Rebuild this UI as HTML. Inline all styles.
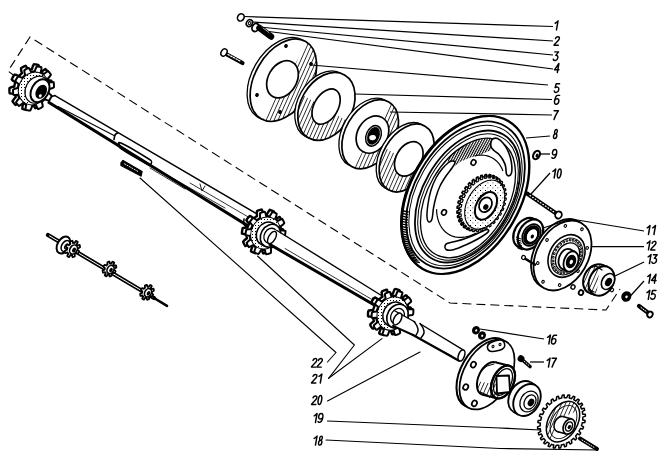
<!DOCTYPE html>
<html><head><meta charset="utf-8"><style>html,body{margin:0;padding:0;background:#fff;font-family:"Liberation Sans",sans-serif;}svg{display:block;will-change:transform;}</style></head>
<body><svg width="666" height="464" viewBox="0 0 666 464">
<defs>
<pattern id="h" patternUnits="userSpaceOnUse" width="3.6" height="3.6" patternTransform="rotate(24)"><rect width="0.75" height="3.6" fill="#000"/></pattern>
<pattern id="hd" patternUnits="userSpaceOnUse" width="2.2" height="2.2" patternTransform="rotate(28)"><rect width="1.1" height="2.2" fill="#000"/></pattern>
<pattern id="dots2" patternUnits="userSpaceOnUse" width="5" height="5"><rect width="1" height="1" fill="#000"/><rect x="2.5" y="2.5" width="0.8" height="0.8" fill="#000"/></pattern>
<pattern id="dots" patternUnits="userSpaceOnUse" width="3" height="3"><rect width="1" height="1" fill="#000"/></pattern>
</defs>
<rect width="666" height="464" fill="#fff"/>
<path d="M16,77 L8,71 L30,37 L450,303 L606,310 L620,289" fill="none" stroke="#000" stroke-width="1.1" stroke-dasharray="9,5"/>
<path d="M48,235 L154,298" fill="none" stroke="#000" stroke-width="4.2" stroke-linejoin="round" stroke-linecap="round" />
<path d="M154,298 L167,305.8" fill="none" stroke="#000" stroke-width="2.6" stroke-linejoin="round" stroke-linecap="round" />
<path d="M49.5,235.9 L152,296.8" fill="none" stroke="#fff" stroke-width="1.0" stroke-linejoin="round" stroke-linecap="round" />
<ellipse cx="63.5" cy="245" rx="6" ry="9.2" transform="rotate(30 63.5 245)" fill="#fff" stroke="#000" stroke-width="2.0" />
<ellipse cx="65.5" cy="246" rx="3.8" ry="6" transform="rotate(30 65.5 246)" fill="none" stroke="#000" stroke-width="1.5" />
<ellipse cx="66.5" cy="246.5" rx="1.6" ry="2.5" transform="rotate(30 66.5 246.5)" fill="none" stroke="#000" stroke-width="1.2" />
<path d="M78.6,252.52 L78.37,252.89 L78.14,253.25 L77.89,253.6 L77.03,253.37 L75.99,252.79 L75.78,253.02 L75.57,253.23 L75.34,253.44 L75.11,253.64 L74.88,253.82 L74.64,253.99 L74.82,255.34 L74.78,256.37 L74.42,256.56 L74.06,256.73 L73.7,256.88 L73.33,257.01 L72.97,257.12 L72.6,257.22 L72.26,256.34 L72.04,255.01 L71.78,255.03 L71.51,255.04 L71.25,255.04 L71,255.02 L70.74,254.99 L70.49,254.94 L69.73,256.22 L69.04,257.06 L68.72,256.93 L68.4,256.78 L68.1,256.62 L67.81,256.44 L67.52,256.24 L67.25,256.02 L67.63,255.01 L68.36,253.71 L68.19,253.52 L68.04,253.31 L67.89,253.1 L67.76,252.88 L67.64,252.64 L67.53,252.4 L66.27,252.88 L65.33,253.02 L65.23,252.66 L65.15,252.28 L65.08,251.9 L65.03,251.51 L65,251.11 L64.98,250.71 L65.85,250.16 L67.11,249.65 L67.14,249.35 L67.18,249.05 L67.23,248.76 L67.3,248.46 L67.38,248.17 L67.47,247.87 L66.45,247.26 L65.82,246.64 L66,246.24 L66.19,245.86 L66.4,245.48 L66.63,245.11 L66.86,244.75 L67.11,244.4 L67.97,244.63 L69.01,245.21 L69.22,244.98 L69.43,244.77 L69.66,244.56 L69.89,244.36 L70.12,244.18 L70.36,244.01 L70.18,242.66 L70.22,241.63 L70.58,241.44 L70.94,241.27 L71.3,241.12 L71.67,240.99 L72.03,240.88 L72.4,240.78 L72.74,241.66 L72.96,242.99 L73.22,242.97 L73.49,242.96 L73.75,242.96 L74,242.98 L74.26,243.01 L74.51,243.06 L75.27,241.78 L75.96,240.94 L76.28,241.07 L76.6,241.22 L76.9,241.38 L77.19,241.56 L77.48,241.76 L77.75,241.98 L77.37,242.99 L76.64,244.29 L76.81,244.48 L76.96,244.69 L77.11,244.9 L77.24,245.12 L77.36,245.36 L77.47,245.6 L78.73,245.12 L79.67,244.98 L79.77,245.34 L79.85,245.72 L79.92,246.1 L79.97,246.49 L80,246.89 L80.02,247.29 L79.15,247.84 L77.89,248.35 L77.86,248.65 L77.82,248.95 L77.77,249.24 L77.7,249.54 L77.62,249.83 L77.53,250.13 L78.55,250.74 L79.18,251.36 L79,251.76 L78.81,252.14 Z" fill="#fff" stroke="#000" stroke-width="1.8" stroke-linejoin="round" stroke-linecap="round" />
<ellipse cx="73.5" cy="249.5" rx="3.52" ry="4.84" transform="rotate(30 73.5 249.5)" fill="#fff" stroke="#000" stroke-width="1.6" />
<ellipse cx="74" cy="250" rx="1.76" ry="2.64" transform="rotate(30 74 250)" fill="#000" stroke="#000" stroke-width="0" />
<path d="M115.04,272.2 L114.84,272.54 L114.62,272.86 L114.4,273.18 L113.62,272.97 L112.67,272.45 L112.48,272.65 L112.29,272.85 L112.08,273.04 L111.88,273.22 L111.66,273.38 L111.44,273.54 L111.61,274.76 L111.57,275.7 L111.25,275.87 L110.92,276.02 L110.59,276.16 L110.26,276.28 L109.92,276.39 L109.59,276.47 L109.28,275.67 L109.08,274.46 L108.84,274.49 L108.6,274.49 L108.37,274.49 L108.13,274.47 L107.9,274.44 L107.68,274.4 L106.99,275.56 L106.36,276.32 L106.06,276.21 L105.78,276.08 L105.5,275.93 L105.23,275.76 L104.98,275.58 L104.73,275.38 L105.07,274.46 L105.74,273.28 L105.59,273.1 L105.44,272.92 L105.31,272.73 L105.19,272.52 L105.08,272.31 L104.98,272.09 L103.83,272.52 L102.99,272.66 L102.89,272.33 L102.81,271.98 L102.75,271.64 L102.71,271.28 L102.68,270.92 L102.67,270.56 L103.46,270.05 L104.6,269.59 L104.62,269.32 L104.66,269.05 L104.71,268.78 L104.77,268.51 L104.85,268.24 L104.93,267.98 L104,267.42 L103.43,266.85 L103.59,266.49 L103.77,266.14 L103.96,265.8 L104.16,265.46 L104.38,265.14 L104.6,264.82 L105.38,265.03 L106.33,265.55 L106.52,265.35 L106.71,265.15 L106.92,264.96 L107.12,264.78 L107.34,264.62 L107.56,264.46 L107.39,263.24 L107.43,262.3 L107.75,262.13 L108.08,261.98 L108.41,261.84 L108.74,261.72 L109.08,261.61 L109.41,261.53 L109.72,262.33 L109.92,263.54 L110.16,263.51 L110.4,263.51 L110.63,263.51 L110.87,263.53 L111.1,263.56 L111.32,263.6 L112.01,262.44 L112.64,261.68 L112.94,261.79 L113.22,261.92 L113.5,262.07 L113.77,262.24 L114.02,262.42 L114.27,262.62 L113.93,263.54 L113.26,264.72 L113.41,264.9 L113.56,265.08 L113.69,265.27 L113.81,265.48 L113.92,265.69 L114.02,265.91 L115.17,265.48 L116.01,265.34 L116.11,265.67 L116.19,266.02 L116.25,266.36 L116.29,266.72 L116.32,267.08 L116.33,267.44 L115.54,267.95 L114.4,268.41 L114.38,268.68 L114.34,268.95 L114.29,269.22 L114.23,269.49 L114.15,269.76 L114.07,270.02 L115,270.58 L115.57,271.15 L115.41,271.51 L115.23,271.86 Z" fill="#fff" stroke="#000" stroke-width="1.8" stroke-linejoin="round" stroke-linecap="round" />
<ellipse cx="110.5" cy="269.5" rx="3.2" ry="4.4" transform="rotate(30 110.5 269.5)" fill="#fff" stroke="#000" stroke-width="1.6" />
<ellipse cx="111" cy="270" rx="1.6" ry="2.4" transform="rotate(30 111 270)" fill="#000" stroke="#000" stroke-width="0" />
<path d="M152.54,295.5 L152.34,295.84 L152.12,296.16 L151.9,296.48 L151.12,296.27 L150.17,295.75 L149.98,295.95 L149.79,296.15 L149.58,296.34 L149.38,296.52 L149.16,296.68 L148.94,296.84 L149.11,298.06 L149.07,299 L148.75,299.17 L148.42,299.32 L148.09,299.46 L147.76,299.58 L147.42,299.69 L147.09,299.77 L146.78,298.97 L146.58,297.76 L146.34,297.79 L146.1,297.79 L145.87,297.79 L145.63,297.77 L145.4,297.74 L145.18,297.7 L144.49,298.86 L143.86,299.62 L143.56,299.51 L143.28,299.38 L143,299.23 L142.73,299.06 L142.48,298.88 L142.23,298.68 L142.57,297.76 L143.24,296.58 L143.09,296.4 L142.94,296.22 L142.81,296.03 L142.69,295.82 L142.58,295.61 L142.48,295.39 L141.33,295.82 L140.49,295.96 L140.39,295.63 L140.31,295.28 L140.25,294.94 L140.21,294.58 L140.18,294.22 L140.17,293.86 L140.96,293.35 L142.1,292.89 L142.12,292.62 L142.16,292.35 L142.21,292.08 L142.27,291.81 L142.35,291.54 L142.43,291.28 L141.5,290.72 L140.93,290.15 L141.09,289.79 L141.27,289.44 L141.46,289.1 L141.66,288.76 L141.88,288.44 L142.1,288.12 L142.88,288.33 L143.83,288.85 L144.02,288.65 L144.21,288.45 L144.42,288.26 L144.62,288.08 L144.84,287.92 L145.06,287.76 L144.89,286.54 L144.93,285.6 L145.25,285.43 L145.58,285.28 L145.91,285.14 L146.24,285.02 L146.58,284.91 L146.91,284.83 L147.22,285.63 L147.42,286.84 L147.66,286.81 L147.9,286.81 L148.13,286.81 L148.37,286.83 L148.6,286.86 L148.82,286.9 L149.51,285.74 L150.14,284.98 L150.44,285.09 L150.72,285.22 L151,285.37 L151.27,285.54 L151.52,285.72 L151.77,285.92 L151.43,286.84 L150.76,288.02 L150.91,288.2 L151.06,288.38 L151.19,288.57 L151.31,288.78 L151.42,288.99 L151.52,289.21 L152.67,288.78 L153.51,288.64 L153.61,288.97 L153.69,289.32 L153.75,289.66 L153.79,290.02 L153.82,290.38 L153.83,290.74 L153.04,291.25 L151.9,291.71 L151.88,291.98 L151.84,292.25 L151.79,292.52 L151.73,292.79 L151.65,293.06 L151.57,293.32 L152.5,293.88 L153.07,294.45 L152.91,294.81 L152.73,295.16 Z" fill="#fff" stroke="#000" stroke-width="1.8" stroke-linejoin="round" stroke-linecap="round" />
<ellipse cx="148" cy="292.8" rx="3.2" ry="4.4" transform="rotate(30 148 292.8)" fill="#fff" stroke="#000" stroke-width="1.6" />
<ellipse cx="148.5" cy="293.3" rx="1.6" ry="2.4" transform="rotate(30 148.5 293.3)" fill="#000" stroke="#000" stroke-width="0" />
<path d="M55,95.6 L258,214.5 L253,229 L49,102.5 Z" fill="#fff" stroke="none"/>
<path d="M55,95.6 L258,214.5" fill="none" stroke="#000" stroke-width="1.4" stroke-linejoin="round" stroke-linecap="round" />
<path d="M117.5,133 C117.08,133.33 115.58,133.92 115,135 C114.42,136.08 114.17,138.75 114,139.5" fill="none" stroke="#000" stroke-width="1.6" stroke-linejoin="round" stroke-linecap="round" />
<path d="M49,102.5 L253,229" fill="none" stroke="#000" stroke-width="3.2" stroke-linejoin="round" stroke-linecap="round" />
<path d="M58,106.5 L114,135.5" fill="none" stroke="#000" stroke-width="1.1" stroke-linejoin="round" stroke-linecap="round" />
<path d="M49,102.5 L50,97 L55,95.6" fill="none" stroke="#000" stroke-width="1.6" stroke-linejoin="round" stroke-linecap="round" />
<path d="M121,143 C125.67,145.08 142.92,155.33 148,158.5 C153.08,161.67 151.17,161 151.5,162 C151.83,163 150.92,164.25 150,164.5 C149.08,164.75 150.67,166 146,163.5 C141.33,161 126.33,152.42 122,149.5 C117.67,146.58 120.17,147.08 120,146 C119.83,144.92 116.33,140.92 121,143 Z" fill="none" stroke="#000" stroke-width="1.5" stroke-linejoin="round" stroke-linecap="round" />
<path d="M150,168 L185,189" fill="none" stroke="#000" stroke-width="0.8" stroke-linejoin="round" stroke-linecap="round" />
<path d="M160,171 L225,208" fill="none" stroke="#000" stroke-width="0.8" stroke-linejoin="round" stroke-linecap="round" />
<path d="M190,183 L250,218" fill="none" stroke="#000" stroke-width="0.8" stroke-linejoin="round" stroke-linecap="round" />
<path d="M200,184 L202,191 L205,186" fill="none" stroke="#000" stroke-width="0.9" stroke-linejoin="round" stroke-linecap="round" />
<path d="M244,219 L243.5,224 L247,227.5" fill="none" stroke="#000" stroke-width="1.6" stroke-linejoin="round" stroke-linecap="round" />
<path d="M48,97.11 L47.53,97.9 L47.03,98.67 L46.5,99.43 L44.55,98.97 L42.1,97.83 L41.64,98.37 L41.15,98.89 L40.65,99.4 L40.14,99.89 L39.61,100.36 L39.06,100.8 L39.83,103.59 L40.03,105.76 L39.28,106.25 L38.52,106.71 L37.75,107.14 L36.97,107.54 L36.18,107.9 L35.38,108.24 L34.2,106.59 L33.04,104.01 L32.4,104.19 L31.75,104.35 L31.11,104.48 L30.46,104.58 L29.82,104.65 L29.17,104.7 L28.21,107.66 L27.16,109.71 L26.34,109.67 L25.53,109.59 L24.73,109.48 L23.94,109.33 L23.16,109.15 L22.39,108.93 L22.44,106.72 L23,103.69 L22.43,103.44 L21.88,103.17 L21.34,102.87 L20.81,102.55 L20.29,102.21 L19.79,101.84 L17.46,103.84 L15.56,104.99 L14.99,104.43 L14.44,103.84 L13.92,103.23 L13.42,102.6 L12.95,101.94 L12.5,101.25 L13.75,99.32 L15.83,97 L15.55,96.42 L15.3,95.82 L15.06,95.21 L14.85,94.59 L14.66,93.95 L14.5,93.31 L11.69,93.59 L9.67,93.39 L9.56,92.53 L9.48,91.66 L9.43,90.79 L9.42,89.9 L9.44,89.02 L9.49,88.13 L11.47,87.21 L14.27,86.49 L14.38,85.79 L14.52,85.1 L14.68,84.41 L14.87,83.72 L15.09,83.04 L15.32,82.37 L13.11,80.82 L11.74,79.36 L12.13,78.52 L12.55,77.7 L13,76.89 L13.47,76.1 L13.97,75.33 L14.5,74.57 L16.45,75.03 L18.9,76.17 L19.36,75.63 L19.85,75.11 L20.35,74.6 L20.86,74.11 L21.39,73.64 L21.94,73.2 L21.17,70.41 L20.97,68.24 L21.72,67.75 L22.48,67.29 L23.25,66.86 L24.03,66.46 L24.82,66.1 L25.62,65.76 L26.8,67.41 L27.96,69.99 L28.6,69.81 L29.25,69.65 L29.89,69.52 L30.54,69.42 L31.18,69.35 L31.83,69.3 L32.79,66.34 L33.84,64.29 L34.66,64.33 L35.47,64.41 L36.27,64.52 L37.06,64.67 L37.84,64.85 L38.61,65.07 L38.56,67.28 L38,70.31 L38.57,70.56 L39.12,70.83 L39.66,71.13 L40.19,71.45 L40.71,71.79 L41.21,72.16 L43.54,70.16 L45.44,69.01 L46.01,69.57 L46.56,70.16 L47.08,70.77 L47.58,71.4 L48.05,72.06 L48.5,72.75 L47.25,74.68 L45.17,77 L45.45,77.58 L45.7,78.18 L45.94,78.79 L46.15,79.41 L46.34,80.05 L46.5,80.69 L49.31,80.41 L51.33,80.61 L51.44,81.47 L51.52,82.34 L51.57,83.21 L51.58,84.1 L51.56,84.98 L51.51,85.87 L49.53,86.79 L46.73,87.51 L46.62,88.21 L46.48,88.9 L46.32,89.59 L46.13,90.28 L45.91,90.96 L45.68,91.63 L47.89,93.18 L49.26,94.64 L48.87,95.48 L48.45,96.3 Z" fill="#fff" stroke="#000" stroke-width="2.4" stroke-linejoin="round" stroke-linecap="round" />
<path d="M50.48,98.3 L50.02,99.07 L49.53,99.82 L49.02,100.55 L47.15,100.13 L44.8,99.05 L44.35,99.58 L43.88,100.09 L43.39,100.58 L42.89,101.06 L42.37,101.51 L41.84,101.95 L42.57,104.62 L42.74,106.7 L42.02,107.17 L41.28,107.62 L40.54,108.03 L39.78,108.42 L39.01,108.77 L38.23,109.1 L37.09,107.53 L35.97,105.07 L35.35,105.25 L34.72,105.4 L34.09,105.53 L33.47,105.63 L32.84,105.7 L32.21,105.75 L31.27,108.58 L30.26,110.53 L29.47,110.49 L28.68,110.41 L27.91,110.3 L27.14,110.16 L26.38,109.98 L25.63,109.77 L25.66,107.66 L26.2,104.76 L25.64,104.52 L25.1,104.26 L24.57,103.97 L24.05,103.65 L23.55,103.32 L23.07,102.96 L20.83,104.86 L19.01,105.95 L18.45,105.41 L17.92,104.84 L17.41,104.25 L16.93,103.63 L16.47,102.99 L16.04,102.32 L17.23,100.47 L19.21,98.24 L18.94,97.68 L18.68,97.09 L18.46,96.5 L18.25,95.89 L18.07,95.27 L17.91,94.64 L15.22,94.9 L13.3,94.7 L13.19,93.87 L13.11,93.02 L13.07,92.17 L13.05,91.32 L13.07,90.46 L13.12,89.59 L15.01,88.71 L17.68,88 L17.79,87.32 L17.93,86.65 L18.09,85.98 L18.27,85.31 L18.48,84.64 L18.71,83.99 L16.6,82.49 L15.3,81.09 L15.68,80.28 L16.09,79.48 L16.52,78.7 L16.98,77.93 L17.47,77.18 L17.98,76.45 L19.85,76.87 L22.2,77.95 L22.65,77.42 L23.12,76.91 L23.61,76.42 L24.11,75.94 L24.63,75.49 L25.16,75.05 L24.43,72.38 L24.26,70.3 L24.98,69.83 L25.72,69.38 L26.46,68.97 L27.22,68.58 L27.99,68.23 L28.77,67.9 L29.91,69.47 L31.03,71.93 L31.65,71.75 L32.28,71.6 L32.91,71.47 L33.53,71.37 L34.16,71.3 L34.79,71.25 L35.73,68.42 L36.74,66.47 L37.53,66.51 L38.32,66.59 L39.09,66.7 L39.86,66.84 L40.62,67.02 L41.37,67.23 L41.34,69.34 L40.8,72.24 L41.36,72.48 L41.9,72.74 L42.43,73.03 L42.95,73.35 L43.45,73.68 L43.93,74.04 L46.17,72.14 L47.99,71.05 L48.55,71.59 L49.08,72.16 L49.59,72.75 L50.07,73.37 L50.53,74.01 L50.96,74.68 L49.77,76.53 L47.79,78.76 L48.06,79.32 L48.32,79.91 L48.54,80.5 L48.75,81.11 L48.93,81.73 L49.09,82.36 L51.78,82.1 L53.7,82.3 L53.81,83.13 L53.89,83.98 L53.93,84.83 L53.95,85.68 L53.93,86.54 L53.88,87.41 L51.99,88.29 L49.32,89 L49.21,89.68 L49.07,90.35 L48.91,91.02 L48.73,91.69 L48.52,92.36 L48.29,93.01 L50.4,94.51 L51.7,95.91 L51.32,96.72 L50.91,97.52 Z" fill="#fff" stroke="#000" stroke-width="2.0" stroke-linejoin="round" stroke-linecap="round" />
<path d="M46.1,95.78 L45.32,97.03 L44.44,98.21 L43.48,99.32 L42.45,100.35 L41.35,101.29 L40.18,102.13 L38.97,102.86 L37.72,103.49 L36.43,104.01 L35.12,104.4 L33.8,104.68 L32.47,104.83 L31.16,104.86 L29.86,104.76 L28.59,104.54 L27.36,104.19 L26.17,103.73 L25.04,103.15 L23.97,102.46 L22.98,101.67 L22.07,100.77 L21.24,99.78 L20.51,98.71 L19.87,97.55 L19.34,96.33 L18.92,95.05 L18.61,93.72 L18.41,92.35 L18.32,90.94 L18.36,89.53 L18.5,88.1 L18.76,86.67 L19.14,85.26 L19.62,83.88 L20.21,82.53 L20.9,81.22 L21.68,79.97 L22.56,78.79 L23.52,77.68 L24.55,76.65 L25.65,75.71 L26.82,74.87 L28.03,74.14 L29.28,73.51 L30.57,72.99 L31.88,72.6 L33.2,72.32 L34.53,72.17 L35.84,72.14 L37.14,72.24 L38.41,72.46 L39.64,72.81 L40.83,73.27 L41.96,73.85 L43.03,74.54 L44.02,75.33 L44.93,76.23 L45.76,77.22 L46.49,78.29 L47.13,79.45 L47.66,80.67 L48.08,81.95 L48.39,83.28 L48.59,84.65 L48.68,86.06 L48.64,87.47 L48.5,88.9 L48.24,90.33 L47.86,91.74 L47.38,93.12 L46.79,94.47 L46.1,95.78 Z M46.68,95.88 L46.02,96.92 L45.3,97.91 L44.5,98.84 L43.65,99.7 L42.74,100.49 L41.79,101.19 L40.79,101.82 L39.76,102.35 L38.71,102.79 L37.64,103.13 L36.56,103.37 L35.48,103.51 L34.41,103.55 L33.36,103.48 L32.32,103.32 L31.32,103.05 L30.36,102.68 L29.45,102.21 L28.59,101.65 L27.79,101.01 L27.06,100.27 L26.39,99.47 L25.81,98.58 L25.31,97.64 L24.89,96.63 L24.56,95.58 L24.32,94.48 L24.17,93.35 L24.12,92.19 L24.16,91.02 L24.3,89.84 L24.53,88.66 L24.85,87.49 L25.25,86.33 L25.75,85.21 L26.32,84.12 L26.98,83.08 L27.7,82.09 L28.5,81.16 L29.35,80.3 L30.26,79.51 L31.21,78.81 L32.21,78.18 L33.24,77.65 L34.29,77.21 L35.36,76.87 L36.44,76.63 L37.52,76.49 L38.59,76.45 L39.64,76.52 L40.68,76.68 L41.68,76.95 L42.64,77.32 L43.55,77.79 L44.41,78.35 L45.21,78.99 L45.94,79.73 L46.61,80.53 L47.19,81.42 L47.69,82.36 L48.11,83.37 L48.44,84.42 L48.68,85.52 L48.83,86.65 L48.88,87.81 L48.84,88.98 L48.7,90.16 L48.47,91.34 L48.15,92.51 L47.75,93.67 L47.25,94.79 L46.68,95.88 Z" fill="url(#dots)" fill-rule="evenodd"/>
<ellipse cx="33.5" cy="88.5" rx="14.55" ry="16.92" transform="rotate(30 33.5 88.5)" fill="none" stroke="#000" stroke-width="1.0" />
<ellipse cx="37" cy="89.7" rx="11.28" ry="14.1" transform="rotate(30 37 89.7)" fill="#fff" stroke="#000" stroke-width="1.2" />
<ellipse cx="40" cy="90.7" rx="8.46" ry="12.22" transform="rotate(30 40 90.7)" fill="#fff" stroke="#000" stroke-width="1.9" />
<ellipse cx="41.2" cy="91.8" rx="5.17" ry="7.52" transform="rotate(30 41.2 91.8)" fill="#000" stroke="#000" stroke-width="0" />
<ellipse cx="40.3" cy="95.8" rx="1.41" ry="1.65" transform="rotate(30 40.3 95.8)" fill="#fff" stroke="#000" stroke-width="0" />
<path d="M275.86,239.21 L277.39,241.03 L278.67,242.92 L278.16,243.66 L277.62,244.38 L277.06,245.09 L276.47,245.77 L275.87,246.43 L275.24,247.06 L273.67,246.44 L271.41,244.57 L270.88,245.01 L270.33,245.43 L269.77,245.82 L269.21,246.2 L268.63,246.55 L268.04,246.87 L268.16,249.45 L268.06,251.96 L267.27,252.28 L266.48,252.58 L265.68,252.84 L264.88,253.07 L264.07,253.27 L263.27,253.43 L262.46,251.88 L261.83,248.78 L261.2,248.82 L260.57,248.85 L259.95,248.84 L259.33,248.81 L258.71,248.75 L258.1,248.66 L256.77,251.02 L255.32,253.18 L254.56,252.97 L253.82,252.72 L253.09,252.44 L252.38,252.13 L251.68,251.79 L251,251.42 L251.26,249.53 L252.51,246.38 L252.02,246.02 L251.55,245.64 L251.1,245.23 L250.66,244.81 L250.24,244.36 L249.84,243.89 L247.56,245.14 L245.32,246.12 L244.88,245.45 L244.48,244.76 L244.1,244.05 L243.74,243.32 L243.42,242.57 L243.13,241.8 L244.36,240.29 L247,238.3 L246.84,237.67 L246.71,237.03 L246.6,236.38 L246.51,235.72 L246.45,235.06 L246.42,234.39 L244.07,234.04 L241.89,233.47 L241.94,232.6 L242.02,231.73 L242.13,230.86 L242.27,229.99 L242.45,229.12 L242.65,228.25 L244.39,227.7 L247.41,227.63 L247.65,226.97 L247.9,226.31 L248.18,225.67 L248.48,225.03 L248.8,224.4 L249.14,223.79 L247.61,221.97 L246.33,220.08 L246.84,219.34 L247.38,218.62 L247.94,217.91 L248.53,217.23 L249.13,216.57 L249.76,215.94 L251.33,216.56 L253.59,218.43 L254.12,217.99 L254.67,217.57 L255.23,217.18 L255.79,216.8 L256.37,216.45 L256.96,216.13 L256.84,213.55 L256.94,211.04 L257.73,210.72 L258.52,210.42 L259.32,210.16 L260.12,209.93 L260.93,209.73 L261.73,209.57 L262.54,211.12 L263.17,214.22 L263.8,214.18 L264.43,214.15 L265.05,214.16 L265.67,214.19 L266.29,214.25 L266.9,214.34 L268.23,211.98 L269.68,209.82 L270.44,210.03 L271.18,210.28 L271.91,210.56 L272.62,210.87 L273.32,211.21 L274,211.58 L273.74,213.47 L272.49,216.62 L272.98,216.98 L273.45,217.36 L273.9,217.77 L274.34,218.19 L274.76,218.64 L275.16,219.11 L277.44,217.86 L279.68,216.88 L280.12,217.55 L280.52,218.24 L280.9,218.95 L281.26,219.68 L281.58,220.43 L281.87,221.2 L280.64,222.71 L278,224.7 L278.16,225.33 L278.29,225.97 L278.4,226.62 L278.49,227.28 L278.55,227.94 L278.58,228.61 L280.93,228.96 L283.11,229.53 L283.06,230.4 L282.98,231.27 L282.87,232.14 L282.73,233.01 L282.55,233.88 L282.35,234.75 L280.61,235.3 L277.59,235.37 L277.35,236.03 L277.1,236.69 L276.82,237.33 L276.52,237.97 L276.2,238.6 Z" fill="#fff" stroke="#000" stroke-width="2.4" stroke-linejoin="round" stroke-linecap="round" />
<path d="M278.52,240.52 L279.97,242.26 L281.19,244.08 L280.69,244.8 L280.17,245.5 L279.62,246.18 L279.05,246.84 L278.46,247.48 L277.86,248.09 L276.35,247.51 L274.18,245.74 L273.66,246.16 L273.13,246.57 L272.59,246.95 L272.03,247.32 L271.47,247.66 L270.9,247.98 L271,250.45 L270.89,252.84 L270.13,253.16 L269.36,253.45 L268.59,253.7 L267.81,253.92 L267.03,254.11 L266.24,254.27 L265.46,252.79 L264.85,249.83 L264.24,249.88 L263.62,249.9 L263.01,249.89 L262.41,249.86 L261.81,249.8 L261.21,249.72 L259.93,251.97 L258.53,254.03 L257.8,253.82 L257.08,253.58 L256.38,253.31 L255.68,253.01 L255.01,252.68 L254.34,252.32 L254.59,250.51 L255.77,247.5 L255.29,247.15 L254.83,246.78 L254.39,246.38 L253.96,245.97 L253.55,245.53 L253.16,245.07 L250.99,246.25 L248.84,247.18 L248.41,246.53 L248.02,245.86 L247.65,245.17 L247.31,244.46 L246.99,243.74 L246.71,242.99 L247.88,241.54 L250.4,239.63 L250.24,239.01 L250.11,238.39 L250.01,237.76 L249.92,237.12 L249.87,236.47 L249.83,235.82 L247.59,235.47 L245.5,234.92 L245.55,234.07 L245.63,233.22 L245.74,232.38 L245.88,231.53 L246.05,230.69 L246.25,229.85 L247.91,229.31 L250.8,229.23 L251.03,228.58 L251.27,227.94 L251.54,227.31 L251.84,226.69 L252.15,226.08 L252.48,225.48 L251.03,223.74 L249.81,221.92 L250.31,221.2 L250.83,220.5 L251.38,219.82 L251.95,219.16 L252.54,218.52 L253.14,217.91 L254.65,218.49 L256.82,220.26 L257.34,219.84 L257.87,219.43 L258.41,219.05 L258.97,218.68 L259.53,218.34 L260.1,218.02 L260,215.55 L260.11,213.16 L260.87,212.84 L261.64,212.55 L262.41,212.3 L263.19,212.08 L263.97,211.89 L264.76,211.73 L265.54,213.21 L266.15,216.17 L266.76,216.12 L267.38,216.1 L267.99,216.11 L268.59,216.14 L269.19,216.2 L269.79,216.28 L271.07,214.03 L272.47,211.97 L273.2,212.18 L273.92,212.42 L274.62,212.69 L275.32,212.99 L275.99,213.32 L276.65,213.68 L276.41,215.49 L275.23,218.5 L275.71,218.85 L276.17,219.22 L276.61,219.62 L277.04,220.03 L277.45,220.47 L277.84,220.93 L280.01,219.75 L282.16,218.82 L282.59,219.47 L282.98,220.14 L283.35,220.83 L283.69,221.54 L284.01,222.26 L284.29,223.01 L283.12,224.46 L280.6,226.37 L280.76,226.99 L280.89,227.61 L280.99,228.24 L281.08,228.88 L281.13,229.53 L281.17,230.18 L283.41,230.53 L285.5,231.08 L285.45,231.93 L285.37,232.78 L285.26,233.62 L285.12,234.47 L284.95,235.31 L284.75,236.15 L283.09,236.69 L280.2,236.77 L279.97,237.42 L279.73,238.06 L279.46,238.69 L279.16,239.31 L278.85,239.92 Z" fill="#fff" stroke="#000" stroke-width="2.0" stroke-linejoin="round" stroke-linecap="round" />
<path d="M277.83,240.12 L277.07,241.34 L276.21,242.5 L275.27,243.59 L274.26,244.6 L273.18,245.51 L272.04,246.34 L270.85,247.06 L269.63,247.67 L268.37,248.18 L267.09,248.56 L265.79,248.83 L264.5,248.98 L263.21,249.01 L261.94,248.91 L260.69,248.7 L259.49,248.36 L258.33,247.91 L257.22,247.34 L256.18,246.67 L255.2,245.89 L254.31,245.01 L253.5,244.04 L252.78,242.99 L252.16,241.86 L251.64,240.66 L251.23,239.41 L250.92,238.11 L250.73,236.76 L250.65,235.39 L250.68,234 L250.82,232.61 L251.08,231.21 L251.44,229.83 L251.92,228.48 L252.49,227.16 L253.17,225.88 L253.93,224.66 L254.79,223.5 L255.73,222.41 L256.74,221.4 L257.82,220.49 L258.96,219.66 L260.15,218.94 L261.37,218.33 L262.63,217.82 L263.91,217.44 L265.21,217.17 L266.5,217.02 L267.79,216.99 L269.06,217.09 L270.31,217.3 L271.51,217.64 L272.67,218.09 L273.78,218.66 L274.82,219.33 L275.8,220.11 L276.69,220.99 L277.5,221.96 L278.22,223.01 L278.84,224.14 L279.36,225.34 L279.77,226.59 L280.08,227.89 L280.27,229.24 L280.35,230.61 L280.32,232 L280.18,233.39 L279.92,234.79 L279.56,236.17 L279.08,237.52 L278.51,238.84 L277.83,240.12 Z M278.46,240.25 L277.82,241.27 L277.11,242.24 L276.33,243.15 L275.5,243.99 L274.61,244.76 L273.68,245.46 L272.7,246.07 L271.69,246.59 L270.66,247.02 L269.62,247.35 L268.56,247.59 L267.5,247.72 L266.46,247.76 L265.42,247.7 L264.41,247.53 L263.43,247.27 L262.49,246.91 L261.6,246.45 L260.76,245.9 L259.98,245.27 L259.26,244.56 L258.61,243.76 L258.04,242.9 L257.54,241.97 L257.14,240.99 L256.81,239.96 L256.58,238.88 L256.44,237.78 L256.38,236.64 L256.43,235.5 L256.56,234.34 L256.78,233.18 L257.09,232.04 L257.49,230.91 L257.98,229.81 L258.54,228.75 L259.18,227.73 L259.89,226.76 L260.67,225.85 L261.5,225.01 L262.39,224.24 L263.32,223.54 L264.3,222.93 L265.31,222.41 L266.34,221.98 L267.38,221.65 L268.44,221.41 L269.5,221.28 L270.54,221.24 L271.58,221.3 L272.59,221.47 L273.57,221.73 L274.51,222.09 L275.4,222.55 L276.24,223.1 L277.02,223.73 L277.74,224.44 L278.39,225.24 L278.96,226.1 L279.46,227.03 L279.86,228.01 L280.19,229.04 L280.42,230.12 L280.56,231.22 L280.62,232.36 L280.57,233.5 L280.44,234.66 L280.22,235.82 L279.91,236.96 L279.51,238.09 L279.02,239.19 L278.46,240.25 Z" fill="url(#dots)" fill-rule="evenodd"/>
<ellipse cx="265.5" cy="233" rx="14.24" ry="16.56" transform="rotate(30 265.5 233)" fill="none" stroke="#000" stroke-width="1.0" />
<ellipse cx="266.5" cy="233.5" rx="9.66" ry="11.96" transform="rotate(30 266.5 233.5)" fill="#fff" stroke="#000" stroke-width="1.6" />
<path d="M272.34,223.06 L276.34,225.26 L264.66,246.14 L260.66,243.94 Z" fill="#fff" stroke="none"/>
<line x1="272.34" y1="223.06" x2="276.34" y2="225.26" stroke="#000" stroke-width="1.6" />
<line x1="260.66" y1="243.94" x2="264.66" y2="246.14" stroke="#000" stroke-width="1.6" />
<ellipse cx="270.5" cy="235.7" rx="9.66" ry="11.96" transform="rotate(30 270.5 235.7)" fill="#fff" stroke="#000" stroke-width="1.6" />
<ellipse cx="270.5" cy="235.7" rx="6.21" ry="7.82" transform="rotate(30 270.5 235.7)" fill="none" stroke="#000" stroke-width="1.3" />
<path d="M275,230 L383,296.5 L376,306 L268,244 Z" fill="#fff" stroke="none"/>
<path d="M277,230.5 L383,296.5" fill="none" stroke="#000" stroke-width="1.4" stroke-linejoin="round" stroke-linecap="round" />
<path d="M270,244.5 L376,306" fill="none" stroke="#000" stroke-width="3.0" stroke-linejoin="round" stroke-linecap="round" />
<path d="M285,248.5 L372,299.5" fill="none" stroke="#000" stroke-width="0.8" stroke-linejoin="round" stroke-linecap="round" />
<ellipse cx="272" cy="237.5" rx="3.4" ry="6.8" transform="rotate(30 272 237.5)" fill="#fff" stroke="#000" stroke-width="1.4" />
<path d="M373,298 L372,303 L376,306" fill="none" stroke="#000" stroke-width="1.6" stroke-linejoin="round" stroke-linecap="round" />
<path d="M407.37,322.32 L406.89,323.13 L406.38,323.92 L405.84,324.69 L405.28,325.44 L404.69,326.18 L403.77,326.57 L400.38,324.15 L399.87,324.67 L399.34,325.16 L398.8,325.64 L398.24,326.1 L397.67,326.53 L397.09,326.94 L396.5,327.33 L397.44,331.51 L396.91,332.57 L396.11,332.97 L395.3,333.35 L394.48,333.69 L393.65,333.99 L392.82,334.27 L391.93,334.03 L390.78,329.72 L390.12,329.85 L389.46,329.95 L388.8,330.03 L388.15,330.08 L387.49,330.1 L386.84,330.09 L386.19,330.06 L384.59,334.36 L383.61,334.96 L382.8,334.81 L382,334.62 L381.22,334.4 L380.44,334.14 L379.68,333.85 L379.16,333.08 L380.69,328.52 L380.14,328.21 L379.6,327.88 L379.07,327.53 L378.57,327.15 L378.07,326.75 L377.6,326.33 L377.14,325.88 L373.61,328.67 L372.56,328.58 L372.05,327.93 L371.57,327.25 L371.12,326.55 L370.69,325.83 L370.3,325.09 L370.34,324.07 L373.97,321.01 L373.73,320.38 L373.52,319.75 L373.33,319.1 L373.16,318.44 L373.02,317.77 L372.91,317.09 L372.82,316.41 L368.7,316.62 L367.99,315.87 L367.97,314.97 L367.99,314.06 L368.04,313.15 L368.13,312.24 L368.24,311.33 L368.84,310.45 L373.18,310.06 L373.35,309.35 L373.54,308.65 L373.76,307.96 L374,307.27 L374.27,306.59 L374.55,305.91 L374.87,305.25 L371.74,302.8 L371.63,301.68 L372.11,300.87 L372.62,300.08 L373.16,299.31 L373.72,298.56 L374.31,297.82 L375.23,297.43 L378.62,299.85 L379.13,299.33 L379.66,298.84 L380.2,298.36 L380.76,297.9 L381.33,297.47 L381.91,297.06 L382.5,296.67 L381.56,292.49 L382.09,291.43 L382.89,291.03 L383.7,290.65 L384.52,290.31 L385.35,290.01 L386.18,289.73 L387.07,289.97 L388.22,294.28 L388.88,294.15 L389.54,294.05 L390.2,293.97 L390.85,293.92 L391.51,293.9 L392.16,293.91 L392.81,293.94 L394.41,289.64 L395.39,289.04 L396.2,289.19 L397,289.38 L397.78,289.6 L398.56,289.86 L399.32,290.15 L399.84,290.92 L398.31,295.48 L398.86,295.79 L399.4,296.12 L399.93,296.47 L400.43,296.85 L400.93,297.25 L401.4,297.67 L401.86,298.12 L405.39,295.33 L406.44,295.42 L406.95,296.07 L407.43,296.75 L407.88,297.45 L408.31,298.17 L408.7,298.91 L408.66,299.93 L405.03,302.99 L405.27,303.62 L405.48,304.25 L405.67,304.9 L405.84,305.56 L405.98,306.23 L406.09,306.91 L406.18,307.59 L410.3,307.38 L411.01,308.13 L411.03,309.03 L411.01,309.94 L410.96,310.85 L410.87,311.76 L410.76,312.67 L410.16,313.55 L405.82,313.94 L405.65,314.65 L405.46,315.35 L405.24,316.04 L405,316.73 L404.73,317.41 L404.45,318.09 L404.13,318.75 L407.26,321.2 Z" fill="#fff" stroke="#000" stroke-width="2.4" stroke-linejoin="round" stroke-linecap="round" />
<path d="M409.84,323.51 L409.37,324.29 L408.87,325.06 L408.35,325.81 L407.8,326.54 L407.23,327.25 L406.35,327.64 L403.1,325.34 L402.6,325.84 L402.09,326.33 L401.56,326.79 L401.02,327.24 L400.46,327.66 L399.9,328.06 L399.32,328.44 L400.21,332.43 L399.69,333.45 L398.91,333.84 L398.12,334.21 L397.33,334.54 L396.53,334.83 L395.72,335.1 L394.86,334.88 L393.75,330.76 L393.11,330.89 L392.46,330.99 L391.82,331.07 L391.18,331.11 L390.54,331.14 L389.91,331.13 L389.27,331.1 L387.73,335.2 L386.79,335.77 L386,335.62 L385.23,335.44 L384.47,335.23 L383.72,334.98 L382.98,334.7 L382.47,333.95 L383.92,329.59 L383.38,329.3 L382.85,328.98 L382.34,328.63 L381.85,328.26 L381.37,327.87 L380.9,327.46 L380.46,327.03 L377.08,329.68 L376.07,329.58 L375.58,328.95 L375.11,328.3 L374.67,327.62 L374.26,326.92 L373.87,326.2 L373.91,325.21 L377.37,322.28 L377.14,321.67 L376.93,321.05 L376.74,320.42 L376.58,319.78 L376.45,319.12 L376.33,318.46 L376.25,317.79 L372.31,317.98 L371.63,317.25 L371.62,316.38 L371.63,315.5 L371.68,314.62 L371.77,313.73 L371.88,312.85 L372.45,312 L376.6,311.61 L376.76,310.92 L376.95,310.24 L377.16,309.56 L377.4,308.89 L377.66,308.22 L377.94,307.57 L378.24,306.92 L375.26,304.57 L375.16,303.49 L375.63,302.71 L376.13,301.94 L376.65,301.19 L377.2,300.46 L377.77,299.75 L378.65,299.36 L381.9,301.66 L382.4,301.16 L382.91,300.67 L383.44,300.21 L383.98,299.76 L384.54,299.34 L385.1,298.94 L385.68,298.56 L384.79,294.57 L385.31,293.55 L386.09,293.16 L386.88,292.79 L387.67,292.46 L388.47,292.17 L389.28,291.9 L390.14,292.12 L391.25,296.24 L391.89,296.11 L392.54,296.01 L393.18,295.93 L393.82,295.89 L394.46,295.86 L395.09,295.87 L395.73,295.9 L397.27,291.8 L398.21,291.23 L399,291.38 L399.77,291.56 L400.53,291.77 L401.28,292.02 L402.02,292.3 L402.53,293.05 L401.08,297.41 L401.62,297.7 L402.15,298.02 L402.66,298.37 L403.15,298.74 L403.63,299.13 L404.1,299.54 L404.54,299.97 L407.92,297.32 L408.93,297.42 L409.42,298.05 L409.89,298.7 L410.33,299.38 L410.74,300.08 L411.13,300.8 L411.09,301.79 L407.63,304.72 L407.86,305.33 L408.07,305.95 L408.26,306.58 L408.42,307.22 L408.55,307.88 L408.67,308.54 L408.75,309.21 L412.69,309.02 L413.37,309.75 L413.38,310.62 L413.37,311.5 L413.32,312.38 L413.23,313.27 L413.12,314.15 L412.55,315 L408.4,315.39 L408.24,316.08 L408.05,316.76 L407.84,317.44 L407.6,318.11 L407.34,318.78 L407.06,319.43 L406.76,320.08 L409.74,322.43 Z" fill="#fff" stroke="#000" stroke-width="2.0" stroke-linejoin="round" stroke-linecap="round" />
<path d="M405.37,320.93 L404.57,322.21 L403.67,323.42 L402.7,324.55 L401.64,325.6 L400.51,326.56 L399.33,327.42 L398.09,328.17 L396.81,328.81 L395.49,329.34 L394.15,329.74 L392.8,330.02 L391.45,330.18 L390.11,330.2 L388.78,330.1 L387.49,329.88 L386.23,329.53 L385.01,329.06 L383.86,328.46 L382.77,327.76 L381.76,326.95 L380.82,326.03 L379.98,325.02 L379.23,323.92 L378.58,322.74 L378.04,321.5 L377.61,320.19 L377.29,318.83 L377.09,317.43 L377,316 L377.03,314.55 L377.18,313.09 L377.45,311.64 L377.83,310.2 L378.33,308.78 L378.93,307.4 L379.63,306.07 L380.43,304.79 L381.33,303.58 L382.3,302.45 L383.36,301.4 L384.49,300.44 L385.67,299.58 L386.91,298.83 L388.19,298.19 L389.51,297.66 L390.85,297.26 L392.2,296.98 L393.55,296.82 L394.89,296.8 L396.22,296.9 L397.51,297.12 L398.77,297.47 L399.99,297.94 L401.14,298.54 L402.23,299.24 L403.24,300.05 L404.18,300.97 L405.02,301.98 L405.77,303.08 L406.42,304.26 L406.96,305.5 L407.39,306.81 L407.71,308.17 L407.91,309.57 L408,311 L407.97,312.45 L407.82,313.91 L407.55,315.36 L407.17,316.8 L406.67,318.22 L406.07,319.6 L405.37,320.93 Z M405.89,321 L405.23,322.06 L404.48,323.07 L403.67,324.02 L402.8,324.9 L401.88,325.71 L400.9,326.43 L399.88,327.07 L398.83,327.61 L397.76,328.06 L396.66,328.41 L395.56,328.66 L394.46,328.8 L393.37,328.84 L392.29,328.77 L391.24,328.6 L390.21,328.32 L389.23,327.95 L388.3,327.47 L387.42,326.9 L386.6,326.24 L385.86,325.49 L385.18,324.67 L384.58,323.77 L384.07,322.8 L383.64,321.77 L383.3,320.7 L383.06,319.58 L382.91,318.42 L382.86,317.24 L382.9,316.04 L383.04,314.83 L383.27,313.63 L383.6,312.43 L384.02,311.26 L384.52,310.11 L385.11,309 L385.77,307.94 L386.52,306.93 L387.33,305.98 L388.2,305.1 L389.12,304.29 L390.1,303.57 L391.12,302.93 L392.17,302.39 L393.24,301.94 L394.34,301.59 L395.44,301.34 L396.54,301.2 L397.63,301.16 L398.71,301.23 L399.76,301.4 L400.79,301.68 L401.77,302.05 L402.7,302.53 L403.58,303.1 L404.4,303.76 L405.14,304.51 L405.82,305.33 L406.42,306.23 L406.93,307.2 L407.36,308.23 L407.7,309.3 L407.94,310.42 L408.09,311.58 L408.14,312.76 L408.1,313.96 L407.96,315.17 L407.73,316.37 L407.4,317.57 L406.98,318.74 L406.48,319.89 L405.89,321 Z" fill="url(#dots)" fill-rule="evenodd"/>
<ellipse cx="392.5" cy="313.5" rx="14.86" ry="17.28" transform="rotate(30 392.5 313.5)" fill="none" stroke="#000" stroke-width="1.0" />
<ellipse cx="393.5" cy="314" rx="10.08" ry="12.48" transform="rotate(30 393.5 314)" fill="#fff" stroke="#000" stroke-width="1.6" />
<path d="M399.59,303.11 L403.59,305.31 L391.41,327.09 L387.41,324.89 Z" fill="#fff" stroke="none"/>
<line x1="399.59" y1="303.11" x2="403.59" y2="305.31" stroke="#000" stroke-width="1.6" />
<line x1="387.41" y1="324.89" x2="391.41" y2="327.09" stroke="#000" stroke-width="1.6" />
<ellipse cx="397.5" cy="316.2" rx="10.08" ry="12.48" transform="rotate(30 397.5 316.2)" fill="#fff" stroke="#000" stroke-width="1.6" />
<ellipse cx="397.5" cy="316.2" rx="6.48" ry="8.16" transform="rotate(30 397.5 316.2)" fill="none" stroke="#000" stroke-width="1.3" />
<path d="M395,311 L415,322 L420.5,324 L462.7,349.7 L459,360.7 L413,335 L393,325.8 Z" fill="#fff" stroke="none"/>
<path d="M395,311 L415,322" fill="none" stroke="#000" stroke-width="1.4" stroke-linejoin="round" stroke-linecap="round" />
<path d="M393,325.8 L413,335" fill="none" stroke="#000" stroke-width="2.0" stroke-linejoin="round" stroke-linecap="round" />
<path d="M420.5,324 L462.7,349.7" fill="none" stroke="#000" stroke-width="1.4" stroke-linejoin="round" stroke-linecap="round" />
<path d="M413,335 L459,360.7" fill="none" stroke="#000" stroke-width="2.2" stroke-linejoin="round" stroke-linecap="round" />
<path d="M420,339 L452,356" fill="none" stroke="#000" stroke-width="0.8" stroke-linejoin="round" stroke-linecap="round" />
<ellipse cx="397.5" cy="319" rx="3.5" ry="6.5" transform="rotate(30 397.5 319)" fill="#fff" stroke="#000" stroke-width="1.5" />
<path d="M414,321.5 C414.5,322.25 416.33,324.42 417,326 C417.67,327.58 418.25,329.33 418,331 C417.75,332.67 415.92,335.17 415.5,336" fill="none" stroke="#000" stroke-width="1.5" stroke-linejoin="round" stroke-linecap="round" />
<path d="M420,323.5 C420.5,324.25 422.33,326.42 423,328 C423.67,329.58 424.33,331.33 424,333 C423.67,334.67 421.5,337.17 421,338" fill="none" stroke="#000" stroke-width="1.5" stroke-linejoin="round" stroke-linecap="round" />
<ellipse cx="461.5" cy="355.5" rx="3" ry="5.8" transform="rotate(20 461.5 355.5)" fill="#fff" stroke="#000" stroke-width="1.6" />
<path d="M121,163 L123,160.5 L142,171.5 L141,176 L121,165.5 Z" fill="#000" stroke="#000" stroke-width="1.4" stroke-linejoin="round" stroke-linecap="round" />
<path d="M124.5,163.8 L138.5,171.8" fill="none" stroke="#fff" stroke-width="0.9" stroke-linejoin="round" stroke-linecap="round"  stroke-dasharray="1.2,1.6"/>
<ellipse cx="240.8" cy="17.4" rx="3.2" ry="3.8" transform="rotate(30 240.8 17.4)" fill="none" stroke="#000" stroke-width="1.6" />
<ellipse cx="249.4" cy="23.1" rx="2.9" ry="3.6" transform="rotate(30 249.4 23.1)" fill="none" stroke="#000" stroke-width="1.6" />
<ellipse cx="249.6" cy="23.2" rx="1.2" ry="1.6" transform="rotate(30 249.6 23.2)" fill="none" stroke="#000" stroke-width="1.0" />
<ellipse cx="255.5" cy="27.5" rx="3.3" ry="4.2" transform="rotate(30 255.5 27.5)" fill="#fff" stroke="#000" stroke-width="1.8" />
<path d="M259.5,28 L271,36.5" fill="none" stroke="#000" stroke-width="6.5" stroke-linejoin="round" stroke-linecap="round" stroke-linecap="butt"/>
<path d="M262,27.2 L269,32.5" fill="none" stroke="#fff" stroke-width="0.7" stroke-linejoin="round" stroke-linecap="round" />
<path d="M226,54 L242.5,63" fill="none" stroke="#000" stroke-width="4.2" stroke-linejoin="round" stroke-linecap="round" stroke-linecap="round"/>
<path d="M228,54.5 L240,61" fill="none" stroke="#fff" stroke-width="1.2" stroke-linejoin="round" stroke-linecap="round"  stroke-dasharray="1.5,1.5"/>
<ellipse cx="224" cy="52.5" rx="2.8" ry="3.8" transform="rotate(30 224 52.5)" fill="#fff" stroke="#000" stroke-width="1.5" />
<ellipse cx="280.4" cy="78.7" rx="28.5" ry="44.6" transform="rotate(30 280.4 78.7)" fill="#fff" stroke="#000" stroke-width="1.3" />
<ellipse cx="283.4" cy="80.2" rx="28.5" ry="44.6" transform="rotate(30 283.4 80.2)" fill="#fff" stroke="#000" stroke-width="1.7" />
<clipPath id="c93"><path d="M385.13,-92.01 L185.13,254.41 L356.61,353.41 L556.61,6.99 Z"/></clipPath>
<path d="M308.08,94.45 L306.04,97.76 L303.83,100.94 L301.47,103.96 L298.97,106.8 L296.34,109.44 L293.62,111.85 L290.83,114.03 L287.97,115.94 L285.08,117.59 L282.18,118.95 L279.29,120.01 L276.43,120.78 L273.62,121.23 L270.89,121.37 L268.25,121.2 L265.72,120.71 L263.34,119.92 L261.1,118.82 L259.03,117.44 L257.15,115.76 L255.47,113.82 L254,111.62 L252.76,109.18 L251.75,106.53 L250.98,103.67 L250.45,100.63 L250.18,97.44 L250.16,94.11 L250.39,90.68 L250.87,87.17 L251.61,83.61 L252.58,80.02 L253.79,76.43 L255.22,72.87 L256.87,69.37 L258.72,65.95 L260.76,62.64 L262.97,59.46 L265.33,56.44 L267.83,53.6 L270.46,50.96 L273.17,48.55 L275.97,46.37 L278.83,44.46 L281.72,42.81 L284.62,41.45 L287.51,40.39 L290.37,39.63 L293.18,39.17 L295.91,39.03 L298.55,39.2 L301.08,39.69 L303.46,40.48 L305.7,41.58 L307.77,42.96 L309.65,44.64 L311.33,46.58 L312.8,48.78 L314.04,51.22 L315.05,53.88 L315.82,56.73 L316.35,59.77 L316.62,62.96 L316.64,66.29 L316.41,69.72 L315.93,73.23 L315.19,76.79 L314.22,80.38 L313.01,83.97 L311.58,87.53 L309.93,91.03 L308.08,94.45 Z M294.88,86.45 L293.97,87.92 L292.98,89.32 L291.9,90.64 L290.75,91.88 L289.54,93.03 L288.28,94.07 L286.97,94.99 L285.62,95.8 L284.26,96.48 L282.88,97.03 L281.49,97.45 L280.12,97.72 L278.76,97.86 L277.43,97.86 L276.14,97.71 L274.9,97.43 L273.72,97.01 L272.6,96.45 L271.56,95.76 L270.6,94.95 L269.73,94.01 L268.96,92.97 L268.29,91.82 L267.73,90.58 L267.29,89.25 L266.96,87.84 L266.74,86.37 L266.65,84.84 L266.68,83.28 L266.82,81.68 L267.09,80.07 L267.48,78.45 L267.98,76.83 L268.58,75.24 L269.3,73.67 L270.12,72.15 L271.03,70.68 L272.02,69.28 L273.1,67.96 L274.25,66.72 L275.46,65.57 L276.72,64.53 L278.03,63.61 L279.38,62.8 L280.74,62.12 L282.12,61.57 L283.51,61.15 L284.88,60.88 L286.24,60.74 L287.57,60.74 L288.86,60.89 L290.1,61.17 L291.28,61.59 L292.4,62.15 L293.44,62.84 L294.4,63.65 L295.27,64.59 L296.04,65.63 L296.71,66.78 L297.27,68.03 L297.71,69.35 L298.04,70.76 L298.26,72.23 L298.35,73.76 L298.32,75.32 L298.18,76.92 L297.91,78.53 L297.52,80.15 L297.02,81.77 L296.42,83.36 L295.7,84.93 L294.88,86.45 Z" fill="url(#h)" fill-rule="evenodd" clip-path="url(#c93)"/>
<ellipse cx="282.5" cy="79.3" rx="14.3" ry="19.8" transform="rotate(30 282.5 79.3)" fill="none" stroke="#000" stroke-width="1.7" />
<ellipse cx="286" cy="46" rx="1.3" ry="1.5" transform="rotate(30 286 46)" fill="#000" stroke="#000" stroke-width="1" />
<ellipse cx="311" cy="64" rx="1.3" ry="1.5" transform="rotate(30 311 64)" fill="#000" stroke="#000" stroke-width="1" />
<ellipse cx="257" cy="95" rx="1.3" ry="1.5" transform="rotate(30 257 95)" fill="#000" stroke="#000" stroke-width="1" />
<ellipse cx="280" cy="112" rx="1.3" ry="1.5" transform="rotate(30 280 112)" fill="#000" stroke="#000" stroke-width="1" />
<ellipse cx="323.4" cy="104.9" rx="25.6" ry="36.3" transform="rotate(30 323.4 104.9)" fill="#fff" stroke="#000" stroke-width="1.3" />
<ellipse cx="326.4" cy="106.4" rx="25.6" ry="36.3" transform="rotate(30 326.4 106.4)" fill="#fff" stroke="#000" stroke-width="1.7" />
<clipPath id="c102"><path d="M152.19,8.13 L498.61,208.13 L399.61,379.61 L53.19,179.61 Z"/></clipPath>
<path d="M348.57,119.2 L346.9,121.89 L345.08,124.46 L343.12,126.9 L341.03,129.18 L338.82,131.29 L336.52,133.2 L334.15,134.92 L331.72,136.41 L329.24,137.68 L326.75,138.71 L324.25,139.49 L321.77,140.03 L319.32,140.3 L316.93,140.32 L314.61,140.08 L312.38,139.58 L310.25,138.83 L308.25,137.84 L306.39,136.6 L304.68,135.14 L303.13,133.45 L301.76,131.56 L300.58,129.48 L299.6,127.23 L298.82,124.81 L298.25,122.25 L297.89,119.58 L297.75,116.8 L297.83,113.95 L298.12,111.03 L298.64,108.08 L299.36,105.12 L300.29,102.17 L301.41,99.25 L302.73,96.39 L304.23,93.6 L305.9,90.91 L307.72,88.34 L309.68,85.9 L311.77,83.62 L313.98,81.51 L316.27,79.6 L318.65,77.88 L321.08,76.39 L323.56,75.12 L326.05,74.09 L328.55,73.31 L331.03,72.78 L333.48,72.5 L335.87,72.48 L338.19,72.72 L340.42,73.22 L342.55,73.97 L344.55,74.96 L346.41,76.2 L348.12,77.66 L349.67,79.35 L351.04,81.24 L352.22,83.32 L353.2,85.58 L353.98,87.99 L354.55,90.55 L354.91,93.22 L355.05,96 L354.97,98.85 L354.67,101.77 L354.16,104.72 L353.44,107.68 L352.51,110.63 L351.39,113.55 L350.07,116.41 L348.57,119.2 Z M336.49,112.6 L335.62,114.02 L334.68,115.38 L333.67,116.68 L332.6,117.9 L331.48,119.03 L330.33,120.07 L329.14,121 L327.92,121.83 L326.7,122.54 L325.46,123.13 L324.24,123.59 L323.03,123.92 L321.84,124.13 L320.68,124.2 L319.57,124.13 L318.5,123.93 L317.49,123.6 L316.55,123.14 L315.68,122.56 L314.89,121.85 L314.19,121.02 L313.57,120.09 L313.05,119.06 L312.63,117.92 L312.32,116.71 L312.1,115.41 L312,114.05 L312,112.64 L312.11,111.17 L312.33,109.67 L312.65,108.15 L313.07,106.62 L313.59,105.09 L314.21,103.56 L314.91,102.06 L315.71,100.6 L316.58,99.18 L317.52,97.82 L318.53,96.52 L319.6,95.3 L320.72,94.17 L321.88,93.13 L323.06,92.2 L324.28,91.37 L325.5,90.66 L326.74,90.07 L327.96,89.61 L329.17,89.27 L330.36,89.07 L331.52,89 L332.63,89.07 L333.7,89.27 L334.71,89.6 L335.65,90.06 L336.52,90.64 L337.31,91.35 L338.01,92.18 L338.63,93.11 L339.15,94.14 L339.57,95.27 L339.88,96.49 L340.1,97.79 L340.2,99.15 L340.2,100.56 L340.09,102.03 L339.88,103.53 L339.55,105.05 L339.13,106.58 L338.61,108.11 L337.99,109.64 L337.29,111.14 L336.49,112.6 Z" fill="url(#h)" fill-rule="evenodd" clip-path="url(#c102)"/>
<ellipse cx="326.1" cy="106.6" rx="12" ry="19.1" transform="rotate(30 326.1 106.6)" fill="none" stroke="#000" stroke-width="1.7" />
<ellipse cx="367.2" cy="132.8" rx="24.7" ry="37.2" transform="rotate(30 367.2 132.8)" fill="#fff" stroke="#000" stroke-width="1.3" />
<ellipse cx="370.2" cy="134.3" rx="24.7" ry="37.2" transform="rotate(30 370.2 134.3)" fill="#fff" stroke="#000" stroke-width="1.7" />
<clipPath id="c107"><path d="M471.93,-37.91 L271.93,308.51 L443.41,407.51 L643.41,61.09 Z"/></clipPath>
<path d="M391.59,146.65 L389.89,149.41 L388.04,152.06 L386.05,154.57 L383.94,156.92 L381.73,159.11 L379.42,161.1 L377.05,162.89 L374.63,164.47 L372.17,165.81 L369.7,166.92 L367.23,167.77 L364.79,168.38 L362.38,168.72 L360.04,168.8 L357.77,168.61 L355.6,168.17 L353.54,167.47 L351.6,166.52 L349.81,165.32 L348.17,163.88 L346.7,162.22 L345.41,160.35 L344.3,158.28 L343.4,156.03 L342.69,153.61 L342.2,151.04 L341.92,148.35 L341.86,145.55 L342.01,142.66 L342.38,139.71 L342.95,136.72 L343.74,133.71 L344.72,130.71 L345.9,127.73 L347.27,124.8 L348.81,121.95 L350.51,119.19 L352.36,116.54 L354.35,114.03 L356.46,111.68 L358.67,109.49 L360.98,107.5 L363.35,105.71 L365.77,104.13 L368.23,102.79 L370.7,101.68 L373.17,100.83 L375.61,100.22 L378.02,99.88 L380.36,99.8 L382.63,99.99 L384.8,100.43 L386.86,101.13 L388.8,102.08 L390.59,103.28 L392.23,104.72 L393.7,106.38 L394.99,108.25 L396.1,110.32 L397,112.58 L397.71,114.99 L398.2,117.56 L398.48,120.25 L398.54,123.05 L398.39,125.94 L398.02,128.89 L397.45,131.88 L396.66,134.89 L395.68,137.89 L394.5,140.87 L393.13,143.8 L391.59,146.65 Z M385.58,142.15 L384.67,143.6 L383.68,144.98 L382.59,146.29 L381.44,147.5 L380.21,148.62 L378.93,149.63 L377.59,150.52 L376.22,151.29 L374.82,151.94 L373.4,152.46 L371.97,152.83 L370.55,153.07 L369.14,153.17 L367.76,153.13 L366.42,152.95 L365.12,152.63 L363.88,152.17 L362.7,151.57 L361.6,150.85 L360.58,150.01 L359.65,149.04 L358.82,147.97 L358.09,146.79 L357.47,145.53 L356.97,144.17 L356.59,142.75 L356.32,141.26 L356.18,139.73 L356.17,138.15 L356.28,136.55 L356.51,134.93 L356.86,133.31 L357.33,131.7 L357.92,130.11 L358.62,128.56 L359.42,127.05 L360.33,125.6 L361.32,124.22 L362.41,122.91 L363.56,121.7 L364.79,120.58 L366.07,119.57 L367.41,118.68 L368.78,117.91 L370.18,117.26 L371.6,116.74 L373.03,116.37 L374.45,116.12 L375.86,116.03 L377.24,116.07 L378.58,116.25 L379.88,116.57 L381.12,117.03 L382.3,117.63 L383.4,118.35 L384.42,119.19 L385.35,120.16 L386.18,121.23 L386.91,122.41 L387.53,123.67 L388.03,125.03 L388.41,126.45 L388.68,127.94 L388.82,129.47 L388.83,131.05 L388.72,132.65 L388.49,134.27 L388.14,135.89 L387.67,137.5 L387.08,139.09 L386.38,140.64 L385.58,142.15 Z" fill="url(#h)" fill-rule="evenodd" clip-path="url(#c107)"/>
<ellipse cx="372.5" cy="134.6" rx="15.1" ry="19.6" transform="rotate(30 372.5 134.6)" fill="none" stroke="#000" stroke-width="1.7" />
<ellipse cx="373.5" cy="135.8" rx="8" ry="11.5" transform="rotate(22 373.5 135.8)" fill="#000" stroke="#000" stroke-width="0" />
<ellipse cx="373.5" cy="135.8" rx="6.3" ry="9.6" transform="rotate(22 373.5 135.8)" fill="none" stroke="#fff" stroke-width="0.6" />
<ellipse cx="372.6" cy="137.6" rx="3.4" ry="2.6" transform="rotate(-10 372.6 137.6)" fill="#fff" stroke="#000" stroke-width="0" />
<ellipse cx="403.7" cy="156.5" rx="23.7" ry="36.7" transform="rotate(30 403.7 156.5)" fill="#fff" stroke="#000" stroke-width="1.3" />
<ellipse cx="406.7" cy="158" rx="23.7" ry="36.7" transform="rotate(30 406.7 158)" fill="#fff" stroke="#000" stroke-width="1.7" />
<clipPath id="c115"><path d="M232.49,59.73 L578.91,259.73 L479.91,431.21 L133.49,231.21 Z"/></clipPath>
<path d="M427.22,169.85 L425.55,172.57 L423.73,175.19 L421.78,177.67 L419.71,180.01 L417.55,182.17 L415.3,184.15 L412.99,185.94 L410.63,187.51 L408.24,188.85 L405.84,189.96 L403.44,190.83 L401.07,191.45 L398.74,191.81 L396.48,191.92 L394.29,191.77 L392.19,191.36 L390.21,190.69 L388.35,189.78 L386.63,188.63 L385.06,187.24 L383.66,185.63 L382.44,183.81 L381.4,181.8 L380.55,179.6 L379.9,177.24 L379.45,174.73 L379.21,172.09 L379.18,169.35 L379.36,166.52 L379.75,163.63 L380.34,160.69 L381.14,157.74 L382.13,154.78 L383.3,151.85 L384.65,148.97 L386.18,146.15 L387.85,143.43 L389.67,140.81 L391.62,138.33 L393.69,135.99 L395.85,133.83 L398.1,131.85 L400.41,130.06 L402.77,128.49 L405.16,127.15 L407.56,126.04 L409.96,125.17 L412.33,124.55 L414.66,124.19 L416.92,124.08 L419.11,124.23 L421.21,124.64 L423.19,125.31 L425.05,126.22 L426.77,127.37 L428.34,128.76 L429.74,130.37 L430.96,132.19 L432,134.2 L432.85,136.4 L433.5,138.76 L433.95,141.27 L434.19,143.91 L434.22,146.65 L434.04,149.48 L433.65,152.37 L433.06,155.31 L432.26,158.26 L431.27,161.22 L430.1,164.15 L428.75,167.03 L427.22,169.85 Z M419.71,165.2 L418.86,166.57 L417.94,167.89 L416.95,169.13 L415.89,170.3 L414.78,171.38 L413.62,172.37 L412.43,173.25 L411.21,174.02 L409.98,174.68 L408.73,175.22 L407.48,175.64 L406.25,175.93 L405.03,176.08 L403.84,176.11 L402.69,176.01 L401.59,175.77 L400.54,175.41 L399.55,174.92 L398.63,174.31 L397.8,173.58 L397.04,172.74 L396.38,171.8 L395.81,170.76 L395.33,169.62 L394.96,168.41 L394.7,167.12 L394.54,165.77 L394.5,164.37 L394.56,162.93 L394.73,161.45 L395,159.96 L395.38,158.46 L395.87,156.96 L396.45,155.48 L397.12,154.02 L397.89,152.6 L398.74,151.23 L399.66,149.91 L400.65,148.67 L401.71,147.5 L402.82,146.42 L403.98,145.43 L405.17,144.55 L406.39,143.78 L407.62,143.12 L408.87,142.58 L410.12,142.16 L411.35,141.88 L412.57,141.72 L413.76,141.69 L414.91,141.79 L416.01,142.03 L417.06,142.39 L418.05,142.88 L418.97,143.49 L419.8,144.22 L420.56,145.06 L421.22,146 L421.79,147.04 L422.27,148.18 L422.64,149.39 L422.9,150.68 L423.06,152.03 L423.1,153.43 L423.04,154.87 L422.88,156.35 L422.6,157.84 L422.22,159.34 L421.73,160.84 L421.15,162.32 L420.48,163.78 L419.71,165.2 Z" fill="url(#h)" fill-rule="evenodd" clip-path="url(#c115)"/>
<ellipse cx="408.8" cy="158.9" rx="12.6" ry="18.5" transform="rotate(30 408.8 158.9)" fill="none" stroke="#000" stroke-width="1.7" />
<ellipse cx="464.5" cy="194.5" rx="54.7" ry="85.4" transform="rotate(30 464.5 194.5)" fill="#fff" stroke="#000" stroke-width="1.4" />
<ellipse cx="465.5" cy="195" rx="54.7" ry="85.4" transform="rotate(30 465.5 195)" fill="#fff" stroke="#000" stroke-width="2.4" />
<clipPath id="c120"><path d="M512.87,222.35 L508.97,228.69 L504.74,234.78 L500.21,240.56 L495.41,246 L490.39,251.04 L485.17,255.67 L479.81,259.82 L474.34,263.49 L468.8,266.64 L463.24,269.24 L457.69,271.27 L452.21,272.73 L446.82,273.59 L441.58,273.85 L436.52,273.52 L431.67,272.58 L427.09,271.06 L422.8,268.96 L418.83,266.29 L415.22,263.09 L411.99,259.36 L409.17,255.14 L406.78,250.47 L404.83,245.38 L403.35,239.9 L402.34,234.08 L401.81,227.96 L401.76,221.59 L402.2,215.02 L403.12,208.29 L404.52,201.47 L406.38,194.59 L408.69,187.72 L411.43,180.91 L414.59,174.2 L418.13,167.65 L422.03,161.31 L426.26,155.22 L430.79,149.44 L435.59,144 L440.61,138.96 L445.83,134.33 L451.19,130.18 L456.66,126.51 L462.2,123.36 L467.76,120.76 L473.31,118.73 L478.79,117.28 L484.18,116.41 L489.42,116.15 L494.48,116.48 L499.33,117.42 L503.91,118.94 L508.2,121.04 L512.17,123.71 L515.78,126.91 L519.01,130.64 L521.83,134.86 L524.22,139.53 L526.17,144.62 L527.65,150.1 L528.66,155.92 L529.19,162.04 L529.24,168.41 L528.8,174.98 L527.88,181.71 L526.48,188.53 L524.62,195.41 L522.31,202.28 L519.57,209.09 L516.41,215.8 L512.87,222.35 Z M507.5,219.75 L504.03,225.39 L500.27,230.81 L496.24,235.96 L491.97,240.8 L487.51,245.29 L482.88,249.41 L478.11,253.12 L473.25,256.38 L468.33,259.19 L463.39,261.51 L458.46,263.32 L453.59,264.62 L448.81,265.4 L444.16,265.64 L439.67,265.35 L435.37,264.53 L431.31,263.18 L427.5,261.32 L423.98,258.95 L420.78,256.11 L417.92,252.8 L415.43,249.05 L413.31,244.9 L411.59,240.38 L410.28,235.51 L409.39,230.33 L408.93,224.89 L408.9,219.23 L409.3,213.39 L410.12,207.41 L411.37,201.34 L413.03,195.22 L415.09,189.11 L417.54,183.05 L420.35,177.08 L423.5,171.25 L426.97,165.61 L430.73,160.19 L434.76,155.04 L439.03,150.2 L443.49,145.71 L448.12,141.59 L452.89,137.88 L457.75,134.62 L462.67,131.81 L467.61,129.49 L472.54,127.68 L477.41,126.38 L482.19,125.6 L486.84,125.36 L491.33,125.65 L495.63,126.47 L499.69,127.82 L503.5,129.68 L507.02,132.05 L510.22,134.89 L513.08,138.2 L515.57,141.95 L517.69,146.1 L519.41,150.62 L520.72,155.49 L521.61,160.67 L522.07,166.11 L522.1,171.77 L521.7,177.61 L520.88,183.59 L519.63,189.66 L517.97,195.78 L515.91,201.89 L513.46,207.95 L510.65,213.92 L507.5,219.75 Z" clip-rule="evenodd" fill-rule="evenodd"/></clipPath>
<g clip-path="url(#c120)">
<line x1="411.88" y1="261.16" x2="419.88" y2="262.66" stroke="#000" stroke-width="1.4" />
<line x1="410.61" y1="259.65" x2="418.61" y2="261.15" stroke="#000" stroke-width="1.4" />
<line x1="409.4" y1="258.05" x2="417.4" y2="259.55" stroke="#000" stroke-width="1.4" />
<line x1="408.25" y1="256.39" x2="416.25" y2="257.89" stroke="#000" stroke-width="1.4" />
<line x1="407.17" y1="254.64" x2="415.17" y2="256.14" stroke="#000" stroke-width="1.4" />
<line x1="406.16" y1="252.83" x2="414.16" y2="254.33" stroke="#000" stroke-width="1.4" />
<line x1="405.22" y1="250.94" x2="413.22" y2="252.44" stroke="#000" stroke-width="1.4" />
<line x1="404.36" y1="248.98" x2="412.36" y2="250.48" stroke="#000" stroke-width="1.4" />
<line x1="403.56" y1="246.96" x2="411.56" y2="248.46" stroke="#000" stroke-width="1.4" />
<line x1="402.83" y1="244.88" x2="410.83" y2="246.38" stroke="#000" stroke-width="1.4" />
<line x1="402.19" y1="242.73" x2="410.19" y2="244.23" stroke="#000" stroke-width="1.4" />
<line x1="401.61" y1="240.52" x2="409.61" y2="242.02" stroke="#000" stroke-width="1.4" />
<line x1="401.11" y1="238.26" x2="409.11" y2="239.76" stroke="#000" stroke-width="1.4" />
<line x1="400.69" y1="235.94" x2="408.69" y2="237.44" stroke="#000" stroke-width="1.4" />
<line x1="400.34" y1="233.58" x2="408.34" y2="235.08" stroke="#000" stroke-width="1.4" />
<line x1="400.07" y1="231.16" x2="408.07" y2="232.66" stroke="#000" stroke-width="1.4" />
<line x1="399.88" y1="228.7" x2="407.88" y2="230.2" stroke="#000" stroke-width="1.4" />
<line x1="399.76" y1="226.2" x2="407.76" y2="227.7" stroke="#000" stroke-width="1.4" />
<line x1="399.72" y1="223.66" x2="407.72" y2="225.16" stroke="#000" stroke-width="1.4" />
<line x1="399.76" y1="221.09" x2="407.76" y2="222.59" stroke="#000" stroke-width="1.4" />
<line x1="399.88" y1="218.48" x2="407.88" y2="219.98" stroke="#000" stroke-width="1.4" />
<line x1="400.08" y1="215.85" x2="408.08" y2="217.35" stroke="#000" stroke-width="1.4" />
<line x1="400.35" y1="213.18" x2="408.35" y2="214.68" stroke="#000" stroke-width="1.4" />
<line x1="400.7" y1="210.5" x2="408.7" y2="212" stroke="#000" stroke-width="1.4" />
</g>
<ellipse cx="465.5" cy="195" rx="50.9" ry="79.4" transform="rotate(30 465.5 195)" fill="none" stroke="#000" stroke-width="1.8" />
<ellipse cx="465.5" cy="195.5" rx="48.5" ry="76" transform="rotate(30 465.5 195.5)" fill="none" stroke="#000" stroke-width="1.0" />
<ellipse cx="467.5" cy="196.5" rx="44.5" ry="71.5" transform="rotate(30 467.5 196.5)" fill="none" stroke="#000" stroke-width="1.8" />
<ellipse cx="468" cy="197" rx="42.5" ry="68.5" transform="rotate(30 468 197)" fill="none" stroke="#000" stroke-width="1.0" />
<ellipse cx="468" cy="198" rx="40" ry="65" transform="rotate(30 468 198)" fill="none" stroke="#000" stroke-width="1.3" />
<clipPath id="c152"><path d="M502.64,218 L499.68,222.83 L496.47,227.47 L493.05,231.89 L489.44,236.05 L485.66,239.92 L481.75,243.47 L477.74,246.67 L473.65,249.5 L469.51,251.95 L465.37,253.98 L461.25,255.58 L457.17,256.75 L453.18,257.47 L449.31,257.74 L445.57,257.55 L442.01,256.91 L438.64,255.82 L435.5,254.29 L432.6,252.33 L429.98,249.96 L427.64,247.2 L425.61,244.06 L423.91,240.57 L422.53,236.75 L421.51,232.64 L420.84,228.27 L420.52,223.66 L420.57,218.86 L420.98,213.9 L421.75,208.83 L422.87,203.66 L424.33,198.46 L426.13,193.25 L428.24,188.08 L430.66,182.98 L433.36,178 L436.32,173.17 L439.53,168.53 L442.95,164.11 L446.56,159.95 L450.34,156.08 L454.25,152.53 L458.26,149.33 L462.35,146.5 L466.49,144.05 L470.63,142.02 L474.75,140.42 L478.83,139.25 L482.82,138.53 L486.69,138.26 L490.43,138.45 L493.99,139.09 L497.36,140.18 L500.5,141.71 L503.4,143.67 L506.02,146.04 L508.36,148.8 L510.39,151.94 L512.09,155.43 L513.47,159.25 L514.49,163.36 L515.16,167.73 L515.48,172.34 L515.43,177.14 L515.02,182.1 L514.25,187.17 L513.13,192.34 L511.67,197.54 L509.87,202.75 L507.76,207.92 L505.34,213.02 L502.64,218 Z"/></clipPath>
<path d="M447,170 L449,150 L466,139 L481,135 L494,135 L491,150 L480,155 L469,158 L460,162 L452,168 Z" fill="url(#hd)" clip-path="url(#c152)"/>
<path d="M493,138.8 C494.08,138.22 495.83,137.8 497.5,138.5 C499.17,139.2 501.33,141.08 503,143 C504.67,144.92 506.25,147.5 507.5,150 C508.75,152.5 509.78,155.33 510.5,158 C511.22,160.67 511.63,163.5 511.8,166 C511.97,168.5 511.97,171.37 511.5,173 C511.03,174.63 509.83,175.63 509,175.8 C508.17,175.97 507.08,175.63 506.5,174 C505.92,172.37 506.08,168.33 505.5,166 C504.92,163.67 504.08,161.92 503,160 C501.92,158.08 500.5,156.08 499,154.5 C497.5,152.92 495.3,151.75 494,150.5 C492.7,149.25 491.7,148.42 491.2,147 C490.7,145.58 490.7,143.37 491,142 C491.3,140.63 491.92,139.38 493,138.8 Z" fill="#fff" stroke="#000" stroke-width="1.6" stroke-linejoin="round" stroke-linecap="round" />
<path d="M445,246 C445.17,245 445.33,244.25 447,243.5 C448.67,242.75 452.17,242.25 455,241.5 C457.83,240.75 461,240 464,239 C467,238 470,236.75 473,235.5 C476,234.25 479.67,232.5 482,231.5 C484.33,230.5 485.92,229.5 487,229.5 C488.08,229.5 489.33,230.33 488.5,231.5 C487.67,232.67 484.75,234.75 482,236.5 C479.25,238.25 475.33,240.33 472,242 C468.67,243.67 465.33,245.17 462,246.5 C458.67,247.83 454.67,249.5 452,250 C449.33,250.5 447.17,250.17 446,249.5 C444.83,248.83 444.83,247 445,246 Z" fill="#fff" stroke="#000" stroke-width="1.6" stroke-linejoin="round" stroke-linecap="round" />
<path d="M452,161 C453.17,160.92 455,161.33 455,162.5 C455,163.67 453.5,165.75 452,168 C450.5,170.25 448,173 446,176 C444,179 441.67,182.5 440,186 C438.33,189.5 437.08,193.33 436,197 C434.92,200.67 434.17,204.33 433.5,208 C432.83,211.67 432.75,216.67 432,219 C431.25,221.33 429.83,222.33 429,222 C428.17,221.67 427.17,220 427,217 C426.83,214 427.33,208.5 428,204 C428.67,199.5 429.67,194.33 431,190 C432.33,185.67 434.17,181.5 436,178 C437.83,174.5 440,171.5 442,169 C444,166.5 446.33,164.33 448,163 C449.67,161.67 450.83,161.08 452,161 Z" fill="#fff" stroke="#000" stroke-width="1.5" stroke-linejoin="round" stroke-linecap="round" />
<path d="M475.57,233.39 L473.65,234.33 L471.72,235.16 L469.79,235.87 L467.86,236.45 L465.94,236.9 L464.04,237.22 L462.16,237.41 L460.31,237.47 L458.48,237.4 L456.7,237.2 L454.97,236.87 L453.28,236.41 L451.65,235.82 L450.08,235.1 L448.58,234.27 L447.15,233.31 L445.79,232.23 L444.51,231.04 L443.32,229.74 L442.21,228.33 L441.2,226.82 L440.27,225.21 L439.45,223.52 L438.73,221.73 L438.1,219.86 L437.59,217.92 L437.17,215.91 L436.87,213.84 L436.67,211.71 L436.58,209.53" fill="none" stroke="#000" stroke-width="1.2" stroke-linejoin="round" stroke-linecap="round" />
<path d="M474.97,155.85 L476.8,155.49 L478.61,155.26 L480.4,155.14 L482.16,155.15 L483.89,155.27 L485.58,155.51 L487.23,155.88 L488.83,156.36 L490.38,156.96 L491.87,157.67 L493.29,158.5 L494.65,159.44 L495.95,160.49 L497.17,161.64 L498.31,162.89 L499.37,164.24 L500.34,165.68 L501.24,167.22 L502.04,168.83 L502.75,170.53" fill="none" stroke="#000" stroke-width="1.2" stroke-linejoin="round" stroke-linecap="round" />
<ellipse cx="473.5" cy="162.5" rx="2.3" ry="2.8" transform="rotate(30 473.5 162.5)" fill="none" stroke="#000" stroke-width="1.6" />
<ellipse cx="444" cy="212.4" rx="2.3" ry="2.8" transform="rotate(30 444 212.4)" fill="none" stroke="#000" stroke-width="1.6" />
<path d="M498.69,213 L498.51,213.3 L498.34,213.6 L498.14,213.88 L496.52,213.21 L496.35,213.48 L496.18,213.75 L496.01,214.02 L495.83,214.28 L495.65,214.54 L495.48,214.81 L495.29,215.07 L495.11,215.32 L496.22,216.76 L496.03,217.05 L495.83,217.32 L495.62,217.6 L495.41,217.87 L495.2,218.14 L494.97,218.39 L493.58,217.32 L493.38,217.56 L493.18,217.8 L492.98,218.04 L492.77,218.28 L492.57,218.51 L492.36,218.74 L492.15,218.97 L491.94,219.19 L492.73,220.94 L492.51,221.2 L492.28,221.44 L492.04,221.68 L491.8,221.91 L491.56,222.14 L491.31,222.36 L490.2,220.92 L489.97,221.13 L489.75,221.33 L489.52,221.53 L489.29,221.73 L489.07,221.93 L488.84,222.12 L488.61,222.31 L488.37,222.5 L488.83,224.5 L488.58,224.72 L488.32,224.91 L488.07,225.1 L487.81,225.29 L487.55,225.48 L487.28,225.64 L486.48,223.9 L486.24,224.06 L486,224.22 L485.76,224.38 L485.52,224.53 L485.27,224.68 L485.03,224.83 L484.79,224.98 L484.54,225.12 L484.64,227.31 L484.37,227.48 L484.1,227.62 L483.83,227.76 L483.56,227.9 L483.29,228.04 L483.02,228.15 L482.57,226.15 L482.32,226.26 L482.07,226.37 L481.82,226.48 L481.57,226.58 L481.32,226.69 L481.07,226.78 L480.82,226.88 L480.57,226.97 L480.31,229.27 L480.03,229.39 L479.76,229.47 L479.49,229.56 L479.22,229.64 L478.95,229.72 L478.68,229.77 L478.58,227.59 L478.33,227.65 L478.08,227.71 L477.83,227.76 L477.59,227.82 L477.34,227.86 L477.09,227.91 L476.85,227.95 L476.6,227.99 L475.98,230.32 L475.71,230.38 L475.44,230.41 L475.18,230.44 L474.91,230.46 L474.65,230.48 L474.39,230.47 L474.66,228.17 L474.42,228.18 L474.18,228.19 L473.94,228.19 L473.7,228.18 L473.46,228.18 L473.23,228.17 L472.99,228.16 L472.76,228.14 L471.81,230.43 L471.55,230.42 L471.3,230.4 L471.05,230.36 L470.8,230.33 L470.55,230.29 L470.32,230.22 L470.93,227.89 L470.71,227.84 L470.49,227.79 L470.27,227.74 L470.05,227.68 L469.83,227.62 L469.61,227.55 L469.4,227.49 L469.19,227.42 L467.94,229.58 L467.7,229.52 L467.47,229.43 L467.24,229.34 L467.02,229.24 L466.8,229.15 L466.59,229.02 L467.53,226.73 L467.34,226.63 L467.14,226.53 L466.94,226.43 L466.75,226.32 L466.56,226.2 L466.37,226.09 L466.18,225.97 L465.99,225.85 L464.49,227.81 L464.28,227.69 L464.08,227.55 L463.89,227.4 L463.69,227.25 L463.5,227.1 L463.33,226.92 L464.58,224.76 L464.41,224.61 L464.25,224.46 L464.08,224.3 L463.92,224.14 L463.76,223.98 L463.61,223.82 L463.45,223.65 L463.3,223.48 L461.59,225.18 L461.41,225.01 L461.25,224.81 L461.1,224.62 L460.94,224.42 L460.79,224.21 L460.66,223.99 L462.16,222.02 L462.03,221.83 L461.91,221.63 L461.78,221.43 L461.66,221.23 L461.54,221.03 L461.42,220.82 L461.3,220.61 L461.19,220.4 L459.33,221.78 L459.19,221.56 L459.08,221.32 L458.97,221.08 L458.86,220.83 L458.75,220.59 L458.67,220.32 L460.38,218.62 L460.29,218.39 L460.2,218.16 L460.11,217.92 L460.03,217.68 L459.95,217.44 L459.88,217.2 L459.81,216.95 L459.73,216.71 L457.79,217.72 L457.7,217.46 L457.63,217.18 L457.57,216.91 L457.51,216.63 L457.45,216.35 L457.41,216.05 L459.27,214.67 L459.23,214.41 L459.18,214.15 L459.14,213.88 L459.11,213.62 L459.07,213.35 L459.04,213.08 L459.01,212.81 L458.99,212.53 L457.03,213.14 L456.99,212.85 L456.97,212.55 L456.95,212.24 L456.94,211.94 L456.93,211.63 L456.95,211.32 L458.89,210.31 L458.89,210.03 L458.89,209.74 L458.9,209.46 L458.91,209.17 L458.92,208.88 L458.94,208.6 L458.96,208.31 L458.98,208.02 L457.06,208.2 L457.07,207.89 L457.11,207.57 L457.14,207.25 L457.18,206.93 L457.22,206.61 L457.28,206.29 L459.25,205.68 L459.29,205.39 L459.34,205.09 L459.39,204.8 L459.45,204.5 L459.51,204.2 L459.57,203.91 L459.63,203.61 L459.7,203.31 L457.9,203.06 L457.96,202.74 L458.04,202.42 L458.12,202.09 L458.21,201.77 L458.3,201.45 L458.41,201.13 L460.32,200.94 L460.41,200.65 L460.51,200.35 L460.6,200.06 L460.7,199.76 L460.8,199.47 L460.91,199.17 L461.01,198.88 L461.12,198.58 L459.5,197.91 L459.61,197.59 L459.74,197.27 L459.87,196.95 L460,196.64 L460.14,196.32 L460.29,196.01 L462.09,196.26 L462.22,195.97 L462.36,195.68 L462.49,195.4 L462.63,195.11 L462.77,194.83 L462.92,194.55 L463.06,194.27 L463.21,193.99 L461.82,192.91 L461.97,192.6 L462.14,192.3 L462.31,192 L462.49,191.7 L462.66,191.4 L462.86,191.12 L464.48,191.79 L464.65,191.52 L464.82,191.25 L464.99,190.98 L465.17,190.72 L465.35,190.46 L465.52,190.19 L465.71,189.93 L465.89,189.68 L464.78,188.24 L464.97,187.95 L465.17,187.68 L465.38,187.4 L465.59,187.13 L465.8,186.86 L466.03,186.61 L467.42,187.68 L467.62,187.44 L467.82,187.2 L468.02,186.96 L468.23,186.72 L468.43,186.49 L468.64,186.26 L468.85,186.03 L469.06,185.81 L468.27,184.06 L468.49,183.8 L468.72,183.56 L468.96,183.32 L469.2,183.09 L469.44,182.86 L469.69,182.64 L470.8,184.08 L471.03,183.87 L471.25,183.67 L471.48,183.47 L471.71,183.27 L471.93,183.07 L472.16,182.88 L472.39,182.69 L472.63,182.5 L472.17,180.5 L472.42,180.28 L472.68,180.09 L472.93,179.9 L473.19,179.71 L473.45,179.52 L473.72,179.36 L474.52,181.1 L474.76,180.94 L475,180.78 L475.24,180.62 L475.48,180.47 L475.73,180.32 L475.97,180.17 L476.21,180.02 L476.46,179.88 L476.36,177.69 L476.63,177.52 L476.9,177.38 L477.17,177.24 L477.44,177.1 L477.71,176.96 L477.98,176.85 L478.43,178.85 L478.68,178.74 L478.93,178.63 L479.18,178.52 L479.43,178.42 L479.68,178.31 L479.93,178.22 L480.18,178.12 L480.43,178.03 L480.69,175.73 L480.97,175.61 L481.24,175.53 L481.51,175.44 L481.78,175.36 L482.05,175.28 L482.32,175.23 L482.42,177.41 L482.67,177.35 L482.92,177.29 L483.17,177.24 L483.41,177.18 L483.66,177.14 L483.91,177.09 L484.15,177.05 L484.4,177.01 L485.02,174.68 L485.29,174.62 L485.56,174.59 L485.82,174.56 L486.09,174.54 L486.35,174.52 L486.61,174.53 L486.34,176.83 L486.58,176.82 L486.82,176.81 L487.06,176.81 L487.3,176.82 L487.54,176.82 L487.77,176.83 L488.01,176.84 L488.24,176.86 L489.19,174.57 L489.45,174.58 L489.7,174.6 L489.95,174.64 L490.2,174.67 L490.45,174.71 L490.68,174.78 L490.07,177.11 L490.29,177.16 L490.51,177.21 L490.73,177.26 L490.95,177.32 L491.17,177.38 L491.39,177.45 L491.6,177.51 L491.81,177.58 L493.06,175.42 L493.3,175.48 L493.53,175.57 L493.76,175.66 L493.98,175.76 L494.2,175.85 L494.41,175.98 L493.47,178.27 L493.66,178.37 L493.86,178.47 L494.06,178.57 L494.25,178.68 L494.44,178.8 L494.63,178.91 L494.82,179.03 L495.01,179.15 L496.51,177.19 L496.72,177.31 L496.92,177.45 L497.11,177.6 L497.31,177.75 L497.5,177.9 L497.67,178.08 L496.42,180.24 L496.59,180.39 L496.75,180.54 L496.92,180.7 L497.08,180.86 L497.24,181.02 L497.39,181.18 L497.55,181.35 L497.7,181.52 L499.41,179.82 L499.59,179.99 L499.75,180.19 L499.9,180.38 L500.06,180.58 L500.21,180.79 L500.34,181.01 L498.84,182.98 L498.97,183.17 L499.09,183.37 L499.22,183.57 L499.34,183.77 L499.46,183.97 L499.58,184.18 L499.7,184.39 L499.81,184.6 L501.67,183.22 L501.81,183.44 L501.92,183.68 L502.03,183.92 L502.14,184.17 L502.25,184.41 L502.33,184.68 L500.62,186.38 L500.71,186.61 L500.8,186.84 L500.89,187.08 L500.97,187.32 L501.05,187.56 L501.12,187.8 L501.19,188.05 L501.27,188.29 L503.21,187.28 L503.3,187.54 L503.37,187.82 L503.43,188.09 L503.49,188.37 L503.55,188.65 L503.59,188.95 L501.73,190.33 L501.77,190.59 L501.82,190.85 L501.86,191.12 L501.89,191.38 L501.93,191.65 L501.96,191.92 L501.99,192.19 L502.01,192.47 L503.97,191.86 L504.01,192.15 L504.03,192.45 L504.05,192.76 L504.06,193.06 L504.07,193.37 L504.05,193.68 L502.11,194.69 L502.11,194.97 L502.11,195.26 L502.1,195.54 L502.09,195.83 L502.08,196.12 L502.06,196.4 L502.04,196.69 L502.02,196.98 L503.94,196.8 L503.93,197.11 L503.89,197.43 L503.86,197.75 L503.82,198.07 L503.78,198.39 L503.72,198.71 L501.75,199.32 L501.71,199.61 L501.66,199.91 L501.61,200.2 L501.55,200.5 L501.49,200.8 L501.43,201.09 L501.37,201.39 L501.3,201.69 L503.1,201.94 L503.04,202.26 L502.96,202.58 L502.88,202.91 L502.79,203.23 L502.7,203.55 L502.59,203.87 L500.68,204.06 L500.59,204.35 L500.49,204.65 L500.4,204.94 L500.3,205.24 L500.2,205.53 L500.09,205.83 L499.99,206.12 L499.88,206.42 L501.5,207.09 L501.39,207.41 L501.26,207.73 L501.13,208.05 L501,208.36 L500.86,208.68 L500.71,208.99 L498.91,208.74 L498.78,209.03 L498.64,209.32 L498.51,209.6 L498.37,209.89 L498.23,210.17 L498.08,210.45 L497.94,210.73 L497.79,211.01 L499.18,212.09 L499.03,212.4 L498.86,212.7 Z" fill="#fff" stroke="#000" stroke-width="1.6" stroke-linejoin="round" stroke-linecap="round" />
<path d="M500.99,214.3 L500.81,214.6 L500.64,214.9 L500.44,215.19 L498.99,214.63 L498.82,214.9 L498.65,215.17 L498.48,215.44 L498.3,215.71 L498.12,215.98 L497.94,216.24 L497.76,216.5 L497.57,216.76 L498.53,218.06 L498.33,218.35 L498.13,218.62 L497.92,218.9 L497.71,219.17 L497.5,219.44 L497.27,219.69 L496.02,218.78 L495.82,219.03 L495.62,219.27 L495.41,219.51 L495.21,219.75 L495,219.98 L494.79,220.22 L494.58,220.45 L494.36,220.68 L495.04,222.24 L494.81,222.5 L494.58,222.74 L494.34,222.98 L494.1,223.21 L493.86,223.44 L493.61,223.66 L492.6,222.43 L492.38,222.63 L492.15,222.84 L491.92,223.04 L491.69,223.24 L491.46,223.44 L491.23,223.63 L490.99,223.83 L490.76,224.02 L491.13,225.8 L490.88,226.02 L490.62,226.21 L490.37,226.4 L490.11,226.59 L489.85,226.78 L489.58,226.95 L488.85,225.43 L488.61,225.6 L488.36,225.76 L488.12,225.92 L487.87,226.07 L487.63,226.23 L487.38,226.38 L487.13,226.52 L486.89,226.67 L486.94,228.61 L486.67,228.78 L486.4,228.92 L486.13,229.06 L485.86,229.2 L485.59,229.34 L485.32,229.45 L484.89,227.7 L484.64,227.82 L484.39,227.93 L484.13,228.04 L483.88,228.15 L483.63,228.25 L483.38,228.35 L483.12,228.45 L482.87,228.54 L482.61,230.57 L482.33,230.69 L482.06,230.77 L481.79,230.86 L481.52,230.94 L481.25,231.02 L480.98,231.08 L480.86,229.16 L480.61,229.22 L480.35,229.28 L480.1,229.34 L479.85,229.39 L479.6,229.44 L479.35,229.49 L479.11,229.53 L478.86,229.57 L478.28,231.62 L478.01,231.68 L477.74,231.71 L477.48,231.74 L477.21,231.76 L476.95,231.78 L476.69,231.78 L476.89,229.75 L476.65,229.76 L476.41,229.77 L476.17,229.77 L475.93,229.76 L475.69,229.76 L475.45,229.75 L475.21,229.74 L474.98,229.72 L474.11,231.73 L473.85,231.72 L473.6,231.7 L473.35,231.66 L473.1,231.63 L472.85,231.59 L472.61,231.52 L473.13,229.46 L472.9,229.42 L472.68,229.37 L472.45,229.31 L472.23,229.25 L472.01,229.19 L471.79,229.13 L471.58,229.06 L471.36,228.99 L470.23,230.88 L470,230.82 L469.77,230.73 L469.54,230.64 L469.32,230.54 L469.1,230.45 L468.89,230.32 L469.69,228.3 L469.49,228.2 L469.29,228.09 L469.1,227.99 L468.9,227.88 L468.71,227.76 L468.51,227.64 L468.32,227.52 L468.14,227.4 L466.79,229.11 L466.58,228.99 L466.38,228.85 L466.19,228.7 L465.99,228.55 L465.8,228.4 L465.63,228.22 L466.7,226.3 L466.54,226.15 L466.37,225.99 L466.2,225.84 L466.04,225.68 L465.88,225.51 L465.72,225.35 L465.56,225.18 L465.41,225.01 L463.89,226.48 L463.71,226.31 L463.55,226.11 L463.4,225.92 L463.24,225.72 L463.09,225.51 L462.96,225.29 L464.26,223.54 L464.13,223.34 L464,223.14 L463.88,222.94 L463.75,222.73 L463.63,222.53 L463.51,222.32 L463.39,222.11 L463.28,221.89 L461.63,223.08 L461.49,222.86 L461.38,222.62 L461.27,222.38 L461.16,222.13 L461.05,221.89 L460.96,221.63 L462.46,220.1 L462.37,219.86 L462.28,219.63 L462.19,219.39 L462.11,219.15 L462.03,218.9 L461.95,218.66 L461.88,218.41 L461.81,218.16 L460.09,219.02 L460,218.76 L459.93,218.48 L459.87,218.21 L459.81,217.93 L459.75,217.65 L459.71,217.35 L461.34,216.11 L461.29,215.84 L461.25,215.57 L461.21,215.31 L461.17,215.04 L461.14,214.77 L461.11,214.49 L461.08,214.22 L461.05,213.94 L459.33,214.44 L459.29,214.15 L459.27,213.85 L459.25,213.54 L459.24,213.24 L459.23,212.93 L459.25,212.62 L460.95,211.69 L460.96,211.41 L460.96,211.12 L460.97,210.83 L460.97,210.54 L460.99,210.25 L461,209.96 L461.02,209.67 L461.04,209.38 L459.36,209.5 L459.37,209.19 L459.41,208.87 L459.44,208.55 L459.48,208.23 L459.52,207.91 L459.58,207.59 L461.31,207.01 L461.36,206.72 L461.41,206.42 L461.46,206.12 L461.52,205.82 L461.58,205.52 L461.64,205.22 L461.7,204.92 L461.77,204.62 L460.2,204.36 L460.26,204.04 L460.34,203.72 L460.42,203.39 L460.51,203.07 L460.6,202.75 L460.71,202.42 L462.4,202.23 L462.5,201.93 L462.59,201.63 L462.69,201.33 L462.79,201.03 L462.89,200.73 L462.99,200.43 L463.1,200.14 L463.21,199.84 L461.8,199.21 L461.91,198.89 L462.04,198.57 L462.17,198.25 L462.3,197.94 L462.44,197.62 L462.59,197.31 L464.19,197.49 L464.32,197.2 L464.46,196.91 L464.6,196.62 L464.74,196.33 L464.88,196.05 L465.03,195.76 L465.17,195.48 L465.32,195.19 L464.12,194.21 L464.27,193.9 L464.44,193.6 L464.61,193.3 L464.79,193 L464.96,192.7 L465.16,192.41 L466.61,192.97 L466.78,192.7 L466.95,192.43 L467.12,192.16 L467.3,191.89 L467.48,191.62 L467.66,191.36 L467.84,191.1 L468.03,190.84 L467.07,189.54 L467.27,189.25 L467.47,188.98 L467.68,188.7 L467.89,188.43 L468.1,188.16 L468.33,187.91 L469.58,188.82 L469.78,188.57 L469.98,188.33 L470.19,188.09 L470.39,187.85 L470.6,187.62 L470.81,187.38 L471.02,187.15 L471.24,186.92 L470.56,185.36 L470.79,185.1 L471.02,184.86 L471.26,184.62 L471.5,184.39 L471.74,184.16 L471.99,183.94 L473,185.17 L473.22,184.97 L473.45,184.76 L473.68,184.56 L473.91,184.36 L474.14,184.16 L474.37,183.97 L474.61,183.77 L474.84,183.58 L474.47,181.8 L474.72,181.58 L474.98,181.39 L475.23,181.2 L475.49,181.01 L475.75,180.82 L476.02,180.65 L476.75,182.17 L476.99,182 L477.24,181.84 L477.48,181.68 L477.73,181.53 L477.97,181.37 L478.22,181.22 L478.47,181.08 L478.71,180.93 L478.66,178.99 L478.93,178.82 L479.2,178.68 L479.47,178.54 L479.74,178.4 L480.01,178.26 L480.28,178.15 L480.71,179.9 L480.96,179.78 L481.21,179.67 L481.47,179.56 L481.72,179.45 L481.97,179.35 L482.22,179.25 L482.48,179.15 L482.73,179.06 L482.99,177.03 L483.27,176.91 L483.54,176.83 L483.81,176.74 L484.08,176.66 L484.35,176.58 L484.62,176.52 L484.74,178.44 L484.99,178.38 L485.25,178.32 L485.5,178.26 L485.75,178.21 L486,178.16 L486.25,178.11 L486.49,178.07 L486.74,178.03 L487.32,175.98 L487.59,175.92 L487.86,175.89 L488.12,175.86 L488.39,175.84 L488.65,175.82 L488.91,175.82 L488.71,177.85 L488.95,177.84 L489.19,177.83 L489.43,177.83 L489.67,177.84 L489.91,177.84 L490.15,177.85 L490.39,177.86 L490.62,177.88 L491.49,175.87 L491.75,175.88 L492,175.9 L492.25,175.94 L492.5,175.97 L492.75,176.01 L492.99,176.08 L492.47,178.14 L492.7,178.18 L492.92,178.23 L493.15,178.29 L493.37,178.35 L493.59,178.41 L493.81,178.47 L494.02,178.54 L494.24,178.61 L495.37,176.72 L495.6,176.78 L495.83,176.87 L496.06,176.96 L496.28,177.06 L496.5,177.15 L496.71,177.28 L495.91,179.3 L496.11,179.4 L496.31,179.51 L496.5,179.61 L496.7,179.72 L496.89,179.84 L497.09,179.96 L497.28,180.08 L497.46,180.2 L498.81,178.49 L499.02,178.61 L499.22,178.75 L499.41,178.9 L499.61,179.05 L499.8,179.2 L499.97,179.38 L498.9,181.3 L499.06,181.45 L499.23,181.61 L499.4,181.76 L499.56,181.92 L499.72,182.09 L499.88,182.25 L500.04,182.42 L500.19,182.59 L501.71,181.12 L501.89,181.29 L502.05,181.49 L502.2,181.68 L502.36,181.88 L502.51,182.09 L502.64,182.31 L501.34,184.06 L501.47,184.26 L501.6,184.46 L501.72,184.66 L501.85,184.87 L501.97,185.07 L502.09,185.28 L502.21,185.49 L502.32,185.71 L503.97,184.52 L504.11,184.74 L504.22,184.98 L504.33,185.22 L504.44,185.47 L504.55,185.71 L504.64,185.97 L503.14,187.5 L503.23,187.74 L503.32,187.97 L503.41,188.21 L503.49,188.45 L503.57,188.7 L503.65,188.94 L503.72,189.19 L503.79,189.44 L505.51,188.58 L505.6,188.84 L505.67,189.12 L505.73,189.39 L505.79,189.67 L505.85,189.95 L505.89,190.25 L504.26,191.49 L504.31,191.76 L504.35,192.03 L504.39,192.29 L504.43,192.56 L504.46,192.83 L504.49,193.11 L504.52,193.38 L504.55,193.66 L506.27,193.16 L506.31,193.45 L506.33,193.75 L506.35,194.06 L506.36,194.36 L506.37,194.67 L506.35,194.98 L504.65,195.91 L504.64,196.19 L504.64,196.48 L504.63,196.77 L504.63,197.06 L504.61,197.35 L504.6,197.64 L504.58,197.93 L504.56,198.22 L506.24,198.1 L506.23,198.41 L506.19,198.73 L506.16,199.05 L506.12,199.37 L506.08,199.69 L506.02,200.01 L504.29,200.59 L504.24,200.88 L504.19,201.18 L504.14,201.48 L504.08,201.78 L504.02,202.08 L503.96,202.38 L503.9,202.68 L503.83,202.98 L505.4,203.24 L505.34,203.56 L505.26,203.88 L505.18,204.21 L505.09,204.53 L505,204.85 L504.89,205.18 L503.2,205.37 L503.1,205.67 L503.01,205.97 L502.91,206.27 L502.81,206.57 L502.71,206.87 L502.61,207.17 L502.5,207.46 L502.39,207.76 L503.8,208.39 L503.69,208.71 L503.56,209.03 L503.43,209.35 L503.3,209.66 L503.16,209.98 L503.01,210.29 L501.41,210.11 L501.28,210.4 L501.14,210.69 L501,210.98 L500.86,211.27 L500.72,211.55 L500.57,211.84 L500.43,212.12 L500.28,212.41 L501.48,213.39 L501.33,213.7 L501.16,214 Z" fill="#fff" stroke="#000" stroke-width="1.2" stroke-linejoin="round" stroke-linecap="round" />
<path d="M499.96,213.35 L498.74,215.32 L497.42,217.2 L496.01,218.99 L494.51,220.67 L492.94,222.23 L491.3,223.65 L489.61,224.93 L487.89,226.05 L486.15,227.02 L484.39,227.8 L482.64,228.42 L480.9,228.85 L479.2,229.1 L477.53,229.16 L475.92,229.03 L474.38,228.72 L472.92,228.22 L471.55,227.55 L470.28,226.7 L469.12,225.68 L468.08,224.5 L467.17,223.17 L466.39,221.7 L465.75,220.1 L465.25,218.38 L464.91,216.56 L464.71,214.64 L464.67,212.65 L464.79,210.6 L465.05,208.5 L465.46,206.37 L466.03,204.23 L466.73,202.09 L467.57,199.97 L468.55,197.88 L469.64,195.85 L470.86,193.88 L472.18,192 L473.59,190.21 L475.09,188.53 L476.66,186.97 L478.3,185.55 L479.99,184.27 L481.71,183.15 L483.45,182.18 L485.21,181.4 L486.96,180.78 L488.7,180.35 L490.4,180.1 L492.07,180.04 L493.68,180.17 L495.22,180.48 L496.68,180.98 L498.05,181.65 L499.32,182.5 L500.48,183.52 L501.52,184.7 L502.43,186.03 L503.21,187.5 L503.85,189.1 L504.35,190.82 L504.69,192.64 L504.89,194.56 L504.93,196.55 L504.81,198.6 L504.55,200.7 L504.14,202.83 L503.57,204.97 L502.87,207.11 L502.03,209.23 L501.05,211.32 L499.96,213.35 Z M494.23,210.55 L493.54,211.66 L492.8,212.73 L492.01,213.75 L491.17,214.71 L490.29,215.59 L489.38,216.41 L488.44,217.14 L487.48,217.79 L486.51,218.34 L485.54,218.8 L484.58,219.17 L483.62,219.43 L482.68,219.58 L481.77,219.63 L480.88,219.58 L480.04,219.42 L479.25,219.15 L478.5,218.79 L477.81,218.33 L477.19,217.77 L476.63,217.12 L476.14,216.38 L475.73,215.57 L475.39,214.68 L475.14,213.72 L474.97,212.7 L474.88,211.63 L474.88,210.51 L474.96,209.36 L475.12,208.18 L475.37,206.99 L475.7,205.78 L476.11,204.57 L476.6,203.38 L477.15,202.2 L477.77,201.05 L478.46,199.94 L479.2,198.87 L479.99,197.85 L480.83,196.89 L481.71,196.01 L482.62,195.19 L483.56,194.46 L484.52,193.81 L485.49,193.26 L486.46,192.8 L487.42,192.43 L488.38,192.18 L489.32,192.02 L490.23,191.97 L491.12,192.02 L491.96,192.18 L492.75,192.45 L493.5,192.81 L494.19,193.27 L494.81,193.83 L495.37,194.48 L495.86,195.22 L496.27,196.03 L496.61,196.93 L496.86,197.88 L497.03,198.9 L497.12,199.97 L497.12,201.09 L497.04,202.24 L496.88,203.42 L496.63,204.61 L496.3,205.82 L495.89,207.03 L495.4,208.22 L494.85,209.4 L494.23,210.55 Z" fill="url(#dots2)" fill-rule="evenodd"/>
<ellipse cx="484.8" cy="204.6" rx="17.5" ry="26.5" transform="rotate(30 484.8 204.6)" fill="none" stroke="#000" stroke-width="1.1" />
<ellipse cx="486" cy="205.8" rx="9.5" ry="15" transform="rotate(30 486 205.8)" fill="#fff" stroke="#000" stroke-width="2.0" />
<ellipse cx="485.5" cy="204.8" rx="6" ry="7.8" transform="rotate(30 485.5 204.8)" fill="#fff" stroke="#000" stroke-width="1.8" />
<ellipse cx="485.8" cy="207" rx="2.5" ry="3" transform="rotate(30 485.8 207)" fill="#000" stroke="#000" stroke-width="0" />
<ellipse cx="536.5" cy="155" rx="3" ry="4.5" transform="rotate(30 536.5 155)" fill="#fff" stroke="#000" stroke-width="2.2" />
<ellipse cx="537" cy="155.5" rx="1.3" ry="2" transform="rotate(30 537 155.5)" fill="#000" stroke="#000" stroke-width="0" />
<path d="M527,193.5 L557,214" fill="none" stroke="#000" stroke-width="4.2" stroke-linejoin="round" stroke-linecap="round" />
<path d="M530,195.5 L554,212" fill="none" stroke="#fff" stroke-width="1.1" stroke-linejoin="round" stroke-linecap="round"  stroke-dasharray="0.9,2.2"/>
<ellipse cx="558.5" cy="215" rx="3.2" ry="3.6" transform="rotate(30 558.5 215)" fill="#fff" stroke="#000" stroke-width="1.8" />
<ellipse cx="526" cy="233" rx="11.5" ry="16" transform="rotate(30 526 233)" fill="#fff" stroke="#000" stroke-width="2.2" />
<path d="M532.47,218.45 L536.97,219.95 L524.03,249.05 L519.53,247.55 Z" fill="#fff" stroke="none"/>
<line x1="532.47" y1="218.45" x2="536.97" y2="219.95" stroke="#000" stroke-width="2.2" />
<line x1="519.53" y1="247.55" x2="524.03" y2="249.05" stroke="#000" stroke-width="2.2" />
<ellipse cx="530.5" cy="234.5" rx="11.5" ry="16" transform="rotate(30 530.5 234.5)" fill="#fff" stroke="#000" stroke-width="2.2" />
<ellipse cx="531.5" cy="235" rx="8.5" ry="11.5" transform="rotate(30 531.5 235)" fill="none" stroke="#000" stroke-width="1.6" />
<path d="M538,238.75 L537.51,239.53 L536.98,240.27 L536.42,240.98 L535.81,241.63 L535.17,242.24 L534.5,242.79 L533.81,243.29 L533.1,243.72 L532.38,244.08 L531.65,244.38 L530.92,244.6 L530.2,244.75 L529.49,244.83 L528.79,244.83 L528.11,244.75 L527.46,244.61 L526.84,244.39 L526.25,244.09 L525.7,243.73 L525.2,243.3 L524.75,242.81 L524.35,242.26 L524,241.66 L523.71,241 L523.47,240.3 L523.3,239.56 L523.19,238.78 L523.15,237.97 L523.17,237.14 L523.25,236.3 L523.39,235.44 L523.6,234.59 L523.87,233.73 L524.19,232.89 L524.57,232.06 L525,231.25 L525.49,230.47 L526.02,229.73 L526.58,229.02 L527.19,228.37 L527.83,227.76 L528.5,227.21 L529.19,226.71 L529.9,226.28 L530.62,225.92 L531.35,225.62 L532.08,225.4 L532.8,225.25 L533.51,225.17 L534.21,225.17 L534.89,225.25 L535.54,225.39 L536.16,225.61 L536.75,225.91 L537.3,226.27 L537.8,226.7 L538.25,227.19 L538.65,227.74 L539,228.34 L539.29,229 L539.53,229.7 L539.7,230.44 L539.81,231.22 L539.85,232.03 L539.83,232.86 L539.75,233.7 L539.61,234.56 L539.4,235.41 L539.13,236.27 L538.81,237.11 L538.43,237.94 L538,238.75 Z M535.9,237.75 L535.6,238.23 L535.27,238.69 L534.92,239.13 L534.55,239.54 L534.16,239.92 L533.75,240.26 L533.33,240.57 L532.9,240.84 L532.46,241.07 L532.02,241.26 L531.57,241.4 L531.13,241.5 L530.7,241.55 L530.28,241.56 L529.87,241.52 L529.48,241.43 L529.1,241.3 L528.75,241.13 L528.42,240.91 L528.12,240.65 L527.85,240.36 L527.61,240.02 L527.41,239.65 L527.24,239.25 L527.1,238.82 L527.01,238.37 L526.95,237.89 L526.93,237.39 L526.94,236.89 L527,236.37 L527.09,235.84 L527.23,235.31 L527.39,234.78 L527.6,234.26 L527.83,233.75 L528.1,233.25 L528.4,232.77 L528.73,232.31 L529.08,231.87 L529.45,231.46 L529.84,231.08 L530.25,230.74 L530.67,230.43 L531.1,230.16 L531.54,229.93 L531.98,229.74 L532.43,229.6 L532.87,229.5 L533.3,229.45 L533.72,229.44 L534.13,229.48 L534.52,229.57 L534.9,229.7 L535.25,229.87 L535.58,230.09 L535.88,230.35 L536.15,230.64 L536.39,230.98 L536.59,231.35 L536.76,231.75 L536.9,232.18 L536.99,232.63 L537.05,233.11 L537.07,233.61 L537.06,234.11 L537,234.63 L536.91,235.16 L536.77,235.69 L536.61,236.22 L536.4,236.74 L536.17,237.25 L535.9,237.75 Z" fill="#000" fill-rule="evenodd"/>
<ellipse cx="532" cy="235.5" rx="4.5" ry="6.5" transform="rotate(30 532 235.5)" fill="#fff" stroke="#000" stroke-width="0" />
<ellipse cx="532.3" cy="236.5" rx="1.6" ry="2" transform="rotate(30 532.3 236.5)" fill="#000" stroke="#000" stroke-width="0" />
<line x1="516" y1="237" x2="521" y2="239" stroke="#000" stroke-width="1.0" />
<line x1="516.3" y1="239.2" x2="521.3" y2="241.2" stroke="#000" stroke-width="1.0" />
<line x1="516.6" y1="241.4" x2="521.6" y2="243.4" stroke="#000" stroke-width="1.0" />
<line x1="516.9" y1="243.6" x2="521.9" y2="245.6" stroke="#000" stroke-width="1.0" />
<line x1="517.2" y1="245.8" x2="522.2" y2="247.8" stroke="#000" stroke-width="1.0" />
<line x1="517.5" y1="248" x2="522.5" y2="250" stroke="#000" stroke-width="1.0" />
<ellipse cx="560" cy="254" rx="25.5" ry="37.5" transform="rotate(30 560 254)" fill="#fff" stroke="#000" stroke-width="1.8" />
<ellipse cx="562.5" cy="255.5" rx="25.5" ry="37.5" transform="rotate(30 562.5 255.5)" fill="#fff" stroke="#000" stroke-width="1.8" />
<ellipse cx="577.97" cy="271.05" rx="1.2" ry="1.4" transform="rotate(30 577.97 271.05)" fill="none" stroke="#000" stroke-width="1.1" />
<ellipse cx="559.66" cy="285.08" rx="1.2" ry="1.4" transform="rotate(30 559.66 285.08)" fill="none" stroke="#000" stroke-width="1.1" />
<ellipse cx="543.02" cy="281.78" rx="1.2" ry="1.4" transform="rotate(30 543.02 281.78)" fill="none" stroke="#000" stroke-width="1.1" />
<ellipse cx="537.78" cy="263.09" rx="1.2" ry="1.4" transform="rotate(30 537.78 263.09)" fill="none" stroke="#000" stroke-width="1.1" />
<ellipse cx="547.03" cy="239.95" rx="1.2" ry="1.4" transform="rotate(30 547.03 239.95)" fill="none" stroke="#000" stroke-width="1.1" />
<ellipse cx="565.34" cy="225.92" rx="1.2" ry="1.4" transform="rotate(30 565.34 225.92)" fill="none" stroke="#000" stroke-width="1.1" />
<ellipse cx="581.98" cy="229.22" rx="1.2" ry="1.4" transform="rotate(30 581.98 229.22)" fill="none" stroke="#000" stroke-width="1.1" />
<ellipse cx="587.22" cy="247.91" rx="1.2" ry="1.4" transform="rotate(30 587.22 247.91)" fill="none" stroke="#000" stroke-width="1.1" />
<ellipse cx="566.5" cy="256" rx="17" ry="22.5" transform="rotate(30 566.5 256)" fill="none" stroke="#000" stroke-width="1.6" />
<ellipse cx="567" cy="256.5" rx="14.5" ry="19.5" transform="rotate(30 567 256.5)" fill="none" stroke="#000" stroke-width="1.1" />
<ellipse cx="578.09" cy="262.9" rx="0.9" ry="1" transform="rotate(30 578.09 262.9)" fill="none" stroke="#000" stroke-width="0.9" />
<ellipse cx="575.86" cy="266.11" rx="0.9" ry="1" transform="rotate(30 575.86 266.11)" fill="none" stroke="#000" stroke-width="0.9" />
<ellipse cx="573.19" cy="268.84" rx="0.9" ry="1" transform="rotate(30 573.19 268.84)" fill="none" stroke="#000" stroke-width="0.9" />
<ellipse cx="570.21" cy="270.95" rx="0.9" ry="1" transform="rotate(30 570.21 270.95)" fill="none" stroke="#000" stroke-width="0.9" />
<ellipse cx="567.07" cy="272.34" rx="0.9" ry="1" transform="rotate(30 567.07 272.34)" fill="none" stroke="#000" stroke-width="0.9" />
<ellipse cx="563.93" cy="272.93" rx="0.9" ry="1" transform="rotate(30 563.93 272.93)" fill="none" stroke="#000" stroke-width="0.9" />
<ellipse cx="560.94" cy="272.7" rx="0.9" ry="1" transform="rotate(30 560.94 272.7)" fill="none" stroke="#000" stroke-width="0.9" />
<ellipse cx="558.25" cy="271.66" rx="0.9" ry="1" transform="rotate(30 558.25 271.66)" fill="none" stroke="#000" stroke-width="0.9" />
<ellipse cx="556" cy="269.85" rx="0.9" ry="1" transform="rotate(30 556 269.85)" fill="none" stroke="#000" stroke-width="0.9" />
<ellipse cx="554.31" cy="267.38" rx="0.9" ry="1" transform="rotate(30 554.31 267.38)" fill="none" stroke="#000" stroke-width="0.9" />
<ellipse cx="553.25" cy="264.36" rx="0.9" ry="1" transform="rotate(30 553.25 264.36)" fill="none" stroke="#000" stroke-width="0.9" />
<ellipse cx="552.88" cy="260.95" rx="0.9" ry="1" transform="rotate(30 552.88 260.95)" fill="none" stroke="#000" stroke-width="0.9" />
<ellipse cx="553.22" cy="257.31" rx="0.9" ry="1" transform="rotate(30 553.22 257.31)" fill="none" stroke="#000" stroke-width="0.9" />
<ellipse cx="554.25" cy="253.63" rx="0.9" ry="1" transform="rotate(30 554.25 253.63)" fill="none" stroke="#000" stroke-width="0.9" />
<ellipse cx="555.91" cy="250.1" rx="0.9" ry="1" transform="rotate(30 555.91 250.1)" fill="none" stroke="#000" stroke-width="0.9" />
<ellipse cx="558.14" cy="246.89" rx="0.9" ry="1" transform="rotate(30 558.14 246.89)" fill="none" stroke="#000" stroke-width="0.9" />
<ellipse cx="560.81" cy="244.16" rx="0.9" ry="1" transform="rotate(30 560.81 244.16)" fill="none" stroke="#000" stroke-width="0.9" />
<ellipse cx="563.79" cy="242.05" rx="0.9" ry="1" transform="rotate(30 563.79 242.05)" fill="none" stroke="#000" stroke-width="0.9" />
<ellipse cx="566.93" cy="240.66" rx="0.9" ry="1" transform="rotate(30 566.93 240.66)" fill="none" stroke="#000" stroke-width="0.9" />
<ellipse cx="570.07" cy="240.07" rx="0.9" ry="1" transform="rotate(30 570.07 240.07)" fill="none" stroke="#000" stroke-width="0.9" />
<ellipse cx="573.06" cy="240.3" rx="0.9" ry="1" transform="rotate(30 573.06 240.3)" fill="none" stroke="#000" stroke-width="0.9" />
<ellipse cx="575.75" cy="241.34" rx="0.9" ry="1" transform="rotate(30 575.75 241.34)" fill="none" stroke="#000" stroke-width="0.9" />
<ellipse cx="578" cy="243.15" rx="0.9" ry="1" transform="rotate(30 578 243.15)" fill="none" stroke="#000" stroke-width="0.9" />
<ellipse cx="579.69" cy="245.62" rx="0.9" ry="1" transform="rotate(30 579.69 245.62)" fill="none" stroke="#000" stroke-width="0.9" />
<ellipse cx="580.75" cy="248.64" rx="0.9" ry="1" transform="rotate(30 580.75 248.64)" fill="none" stroke="#000" stroke-width="0.9" />
<ellipse cx="581.12" cy="252.05" rx="0.9" ry="1" transform="rotate(30 581.12 252.05)" fill="none" stroke="#000" stroke-width="0.9" />
<ellipse cx="580.78" cy="255.69" rx="0.9" ry="1" transform="rotate(30 580.78 255.69)" fill="none" stroke="#000" stroke-width="0.9" />
<ellipse cx="579.75" cy="259.37" rx="0.9" ry="1" transform="rotate(30 579.75 259.37)" fill="none" stroke="#000" stroke-width="0.9" />
<ellipse cx="567.5" cy="257" rx="11" ry="15" transform="rotate(30 567.5 257)" fill="#fff" stroke="#000" stroke-width="1.4" />
<ellipse cx="566" cy="259" rx="7" ry="10.5" transform="rotate(20 566 259)" fill="#fff" stroke="#000" stroke-width="1.8" />
<path d="M570.08,249.35 L575.08,251.85 L566.92,271.15 L561.92,268.65 Z" fill="#fff" stroke="none"/>
<line x1="570.08" y1="249.35" x2="575.08" y2="251.85" stroke="#000" stroke-width="1.8" />
<line x1="561.92" y1="268.65" x2="566.92" y2="271.15" stroke="#000" stroke-width="1.8" />
<ellipse cx="571" cy="261.5" rx="7" ry="10.5" transform="rotate(20 571 261.5)" fill="#fff" stroke="#000" stroke-width="1.8" />
<ellipse cx="571" cy="261.5" rx="4.2" ry="6.2" transform="rotate(20 571 261.5)" fill="#000" stroke="#000" stroke-width="1.6" />
<ellipse cx="571.3" cy="262" rx="1.6" ry="2.2" transform="rotate(30 571.3 262)" fill="#fff" stroke="#000" stroke-width="0" />
<path d="M524,258 L535,264.6" fill="none" stroke="#000" stroke-width="2.6" stroke-linejoin="round" stroke-linecap="round" />
<ellipse cx="523.5" cy="257.5" rx="1.8" ry="2" transform="rotate(30 523.5 257.5)" fill="#fff" stroke="#000" stroke-width="1.2" />
<ellipse cx="573" cy="287" rx="2" ry="2.2" transform="rotate(30 573 287)" fill="none" stroke="#000" stroke-width="1.4" />
<ellipse cx="581" cy="292.6" rx="2.2" ry="2.5" transform="rotate(30 581 292.6)" fill="none" stroke="#000" stroke-width="1.8" />
<ellipse cx="596" cy="279" rx="12" ry="15.5" transform="rotate(30 596 279)" fill="#fff" stroke="#000" stroke-width="2.0" />
<path d="M602.27,264.89 L607.77,266.89 L595.23,295.11 L589.73,293.11 Z" fill="#fff" stroke="none"/>
<line x1="602.27" y1="264.89" x2="607.77" y2="266.89" stroke="#000" stroke-width="2.0" />
<line x1="589.73" y1="293.11" x2="595.23" y2="295.11" stroke="#000" stroke-width="2.0" />
<ellipse cx="601.5" cy="281" rx="12" ry="15.5" transform="rotate(30 601.5 281)" fill="#fff" stroke="#000" stroke-width="2.0" />
<clipPath id="c245"><path d="M580,262 L600,262 L596,300 L580,300 Z"/></clipPath>
<path d="M606.39,285 L605.68,286.15 L604.89,287.24 L604.03,288.27 L603.11,289.23 L602.14,290.11 L601.12,290.91 L600.07,291.61 L598.98,292.22 L597.87,292.73 L596.74,293.14 L595.61,293.44 L594.48,293.62 L593.37,293.7 L592.27,293.67 L591.2,293.52 L590.17,293.26 L589.19,292.9 L588.25,292.42 L587.37,291.85 L586.56,291.18 L585.82,290.41 L585.16,289.56 L584.58,288.63 L584.09,287.62 L583.69,286.55 L583.38,285.43 L583.17,284.25 L583.06,283.03 L583.04,281.78 L583.12,280.52 L583.31,279.24 L583.58,277.95 L583.96,276.68 L584.42,275.42 L584.97,274.19 L585.61,273 L586.32,271.85 L587.11,270.76 L587.97,269.73 L588.89,268.77 L589.86,267.89 L590.88,267.09 L591.93,266.39 L593.02,265.78 L594.13,265.27 L595.26,264.86 L596.39,264.56 L597.52,264.38 L598.63,264.3 L599.73,264.33 L600.8,264.48 L601.83,264.74 L602.81,265.1 L603.75,265.58 L604.63,266.15 L605.44,266.82 L606.18,267.59 L606.84,268.44 L607.42,269.37 L607.91,270.38 L608.31,271.45 L608.62,272.57 L608.83,273.75 L608.94,274.97 L608.96,276.22 L608.88,277.48 L608.69,278.76 L608.42,280.05 L608.04,281.32 L607.58,282.58 L607.03,283.81 L606.39,285 Z" fill="url(#h)" clip-path="url(#c245)"/>
<path d="M590,268 L596,266 L602,270" fill="none" stroke="#000" stroke-width="1.3" stroke-linejoin="round" stroke-linecap="round" />
<path d="M588,289 L594,292" fill="none" stroke="#000" stroke-width="1.3" stroke-linejoin="round" stroke-linecap="round" />
<ellipse cx="608" cy="281.5" rx="6" ry="8.5" transform="rotate(30 608 281.5)" fill="#fff" stroke="#000" stroke-width="1.6" />
<ellipse cx="608.5" cy="282" rx="3.2" ry="4.5" transform="rotate(30 608.5 282)" fill="#000" stroke="#000" stroke-width="0" />
<ellipse cx="612" cy="290" rx="1.5" ry="1.8" transform="rotate(30 612 290)" fill="none" stroke="#000" stroke-width="1.2" />
<ellipse cx="626.3" cy="296.5" rx="4" ry="4.6" transform="rotate(30 626.3 296.5)" fill="#000" stroke="#000" stroke-width="1.8" />
<ellipse cx="626.5" cy="296.8" rx="1.2" ry="1.4" transform="rotate(30 626.5 296.8)" fill="#fff" stroke="#000" stroke-width="0" />
<path d="M639,306 L649,313.5" fill="none" stroke="#000" stroke-width="4.2" stroke-linejoin="round" stroke-linecap="round" />
<path d="M641,307.5 L647,312" fill="none" stroke="#fff" stroke-width="1.0" stroke-linejoin="round" stroke-linecap="round"  stroke-dasharray="1.2,1.3"/>
<ellipse cx="650" cy="314.5" rx="2.6" ry="3" transform="rotate(30 650 314.5)" fill="#fff" stroke="#000" stroke-width="1.8" />
<ellipse cx="484" cy="373" rx="23" ry="38" transform="rotate(30 484 373)" fill="#fff" stroke="#000" stroke-width="2.0" />
<ellipse cx="487" cy="374.5" rx="23" ry="38" transform="rotate(30 487 374.5)" fill="#fff" stroke="#000" stroke-width="1.7" />
<ellipse cx="473.4" cy="364.6" rx="2.4" ry="3" transform="rotate(30 473.4 364.6)" fill="none" stroke="#000" stroke-width="1.7" />
<ellipse cx="465.7" cy="387" rx="2.4" ry="3" transform="rotate(30 465.7 387)" fill="none" stroke="#000" stroke-width="1.7" />
<ellipse cx="474.4" cy="403.4" rx="2.4" ry="3" transform="rotate(30 474.4 403.4)" fill="none" stroke="#000" stroke-width="1.7" />
<path d="M490,343 C492.08,341.67 497.58,339.92 500,340 C502.42,340.08 504.08,342 504.5,343.5 C504.92,345 504.58,347.67 502.5,349 C500.42,350.33 494.5,351.67 492,351.5 C489.5,351.33 487.83,349.42 487.5,348 C487.17,346.58 487.92,344.33 490,343 Z" fill="#fff" stroke="#000" stroke-width="1.5" stroke-linejoin="round" stroke-linecap="round" />
<ellipse cx="493" cy="346.5" rx="1" ry="1.2" transform="rotate(30 493 346.5)" fill="none" stroke="#000" stroke-width="1.0" />
<ellipse cx="500" cy="344.5" rx="1" ry="1.2" transform="rotate(30 500 344.5)" fill="none" stroke="#000" stroke-width="1.0" />
<ellipse cx="489" cy="378.5" rx="10.5" ry="17.5" transform="rotate(25 489 378.5)" fill="#fff" stroke="#000" stroke-width="2.0" />
<path d="M495.25,362.23 L509.25,365.73 L496.75,398.27 L482.75,394.77 Z" fill="#fff" stroke="none"/>
<line x1="495.25" y1="362.23" x2="509.25" y2="365.73" stroke="#000" stroke-width="2.0" />
<line x1="482.75" y1="394.77" x2="496.75" y2="398.27" stroke="#000" stroke-width="2.0" />
<ellipse cx="503" cy="382" rx="10.5" ry="17.5" transform="rotate(25 503 382)" fill="#fff" stroke="#000" stroke-width="2.0" />
<clipPath id="c270"><path d="M470,380 L500,385 L505,410 L470,410 Z"/></clipPath>
<path d="M498.52,382.94 L497.84,384.3 L497.09,385.62 L496.28,386.89 L495.41,388.09 L494.5,389.22 L493.54,390.27 L492.55,391.23 L491.54,392.09 L490.5,392.85 L489.45,393.5 L488.4,394.04 L487.35,394.45 L486.32,394.75 L485.3,394.92 L484.32,394.97 L483.37,394.89 L482.46,394.69 L481.6,394.36 L480.8,393.91 L480.06,393.35 L479.39,392.67 L478.8,391.89 L478.28,391 L477.84,390.02 L477.48,388.95 L477.22,387.8 L477.04,386.58 L476.96,385.3 L476.96,383.96 L477.06,382.59 L477.25,381.18 L477.53,379.75 L477.89,378.32 L478.34,376.88 L478.88,375.46 L479.48,374.06 L480.16,372.7 L480.91,371.38 L481.72,370.11 L482.59,368.91 L483.5,367.78 L484.46,366.73 L485.45,365.77 L486.46,364.91 L487.5,364.15 L488.55,363.5 L489.6,362.96 L490.65,362.55 L491.68,362.25 L492.7,362.08 L493.68,362.03 L494.63,362.11 L495.54,362.31 L496.4,362.64 L497.2,363.09 L497.94,363.65 L498.61,364.33 L499.2,365.11 L499.72,366 L500.16,366.98 L500.52,368.05 L500.78,369.2 L500.96,370.42 L501.04,371.7 L501.04,373.04 L500.94,374.41 L500.75,375.82 L500.47,377.25 L500.11,378.68 L499.66,380.12 L499.12,381.54 L498.52,382.94 Z M478,381 L493,384 L503,399 L488,398 Z" fill="url(#h)" clip-path="url(#c270)"/>
<ellipse cx="503" cy="382" rx="10.5" ry="17.5" transform="rotate(25 503 382)" fill="none" stroke="#000" stroke-width="2.2" />
<ellipse cx="503" cy="382" rx="8.2" ry="14.2" transform="rotate(25 503 382)" fill="none" stroke="#000" stroke-width="1.3" />
<path d="M496.5,376 L509,375.5 L510,392 L497,393.5 L496.5,376" fill="#fff" stroke="#000" stroke-width="1.8" stroke-linejoin="round" stroke-linecap="round" />
<path d="M480,372 L487,366 L494,364" fill="none" stroke="#000" stroke-width="1.0" stroke-linejoin="round" stroke-linecap="round" />
<path d="M480,392 L487,395" fill="none" stroke="#000" stroke-width="1.2" stroke-linejoin="round" stroke-linecap="round" />
<ellipse cx="476" cy="330.2" rx="3" ry="3.4" transform="rotate(30 476 330.2)" fill="#000" stroke="#000" stroke-width="1.8" />
<ellipse cx="476.2" cy="330.4" rx="1" ry="1.2" transform="rotate(30 476.2 330.4)" fill="#fff" stroke="#000" stroke-width="0" />
<ellipse cx="482" cy="335.5" rx="3" ry="3.4" transform="rotate(30 482 335.5)" fill="#000" stroke="#000" stroke-width="1.8" />
<ellipse cx="482.2" cy="335.7" rx="1" ry="1.2" transform="rotate(30 482.2 335.7)" fill="#fff" stroke="#000" stroke-width="0" />
<path d="M522,359.5 L530,366.5" fill="none" stroke="#000" stroke-width="3.6" stroke-linejoin="round" stroke-linecap="round" />
<path d="M524,361 L529,365.5" fill="none" stroke="#fff" stroke-width="0.9" stroke-linejoin="round" stroke-linecap="round"  stroke-dasharray="0.9,1.8"/>
<ellipse cx="521" cy="358.6" rx="2.6" ry="2.6" transform="rotate(30 521 358.6)" fill="#000" stroke="#000" stroke-width="1.6" />
<ellipse cx="522" cy="397" rx="12.5" ry="17" transform="rotate(30 522 397)" fill="#fff" stroke="#000" stroke-width="1.9" />
<path d="M530.63,382.36 L535.63,385.36 L518.37,414.64 L513.37,411.64 Z" fill="#fff" stroke="none"/>
<line x1="530.63" y1="382.36" x2="535.63" y2="385.36" stroke="#000" stroke-width="1.9" />
<line x1="513.37" y1="411.64" x2="518.37" y2="414.64" stroke="#000" stroke-width="1.9" />
<ellipse cx="527" cy="400" rx="12.5" ry="17" transform="rotate(30 527 400)" fill="#fff" stroke="#000" stroke-width="1.9" />
<ellipse cx="529" cy="401.5" rx="8.5" ry="11" transform="rotate(30 529 401.5)" fill="none" stroke="#000" stroke-width="1.3" />
<ellipse cx="530" cy="402" rx="5.5" ry="7.5" transform="rotate(30 530 402)" fill="none" stroke="#000" stroke-width="1.3" />
<ellipse cx="531" cy="402.5" rx="3" ry="4" transform="rotate(30 531 402.5)" fill="#000" stroke="#000" stroke-width="0" />
<path d="M580.03,432.2 L580.69,433.06 L580.47,433.43 L580.24,433.79 L580.02,434.14 L579.79,434.5 L579.55,434.85 L577.4,433.73 L577.19,434.04 L576.97,434.34 L576.74,434.64 L576.51,434.94 L576.28,435.24 L576.05,435.53 L575.81,435.82 L575.57,436.11 L576.29,437.43 L576.71,438.49 L576.43,438.8 L576.14,439.11 L575.86,439.41 L575.56,439.7 L575.27,440 L573.53,438.27 L573.26,438.53 L572.99,438.78 L572.72,439.02 L572.44,439.27 L572.16,439.5 L571.88,439.74 L571.6,439.97 L571.32,440.19 L571.69,441.73 L571.85,442.93 L571.52,443.17 L571.19,443.4 L570.86,443.63 L570.52,443.85 L570.19,444.07 L568.96,441.84 L568.65,442.03 L568.35,442.21 L568.04,442.39 L567.73,442.56 L567.43,442.72 L567.11,442.89 L566.8,443.04 L566.49,443.2 L566.5,444.86 L566.38,446.12 L566.03,446.28 L565.67,446.42 L565.32,446.57 L564.96,446.7 L564.6,446.83 L563.95,444.23 L563.63,444.34 L563.31,444.44 L562.99,444.53 L562.66,444.62 L562.34,444.71 L562.02,444.79 L561.7,444.87 L561.37,444.93 L561.02,446.64 L560.64,447.88 L560.28,447.94 L559.92,448 L559.55,448.05 L559.19,448.09 L558.84,448.12 L558.8,445.3 L558.48,445.32 L558.16,445.33 L557.84,445.34 L557.53,445.35 L557.21,445.35 L556.89,445.34 L556.58,445.33 L556.27,445.31 L555.57,446.95 L554.94,448.11 L554.59,448.08 L554.25,448.03 L553.91,447.98 L553.56,447.93 L553.22,447.87 L553.81,444.98 L553.51,444.91 L553.21,444.84 L552.91,444.77 L552.62,444.69 L552.33,444.6 L552.04,444.51 L551.75,444.41 L551.46,444.31 L550.46,445.78 L549.63,446.8 L549.31,446.66 L549,446.52 L548.7,446.38 L548.39,446.23 L548.09,446.08 L549.26,443.3 L549,443.15 L548.74,443 L548.48,442.84 L548.23,442.68 L547.98,442.51 L547.73,442.33 L547.48,442.16 L547.24,441.97 L545.99,443.2 L545,444.01 L544.74,443.79 L544.48,443.56 L544.23,443.33 L543.98,443.1 L543.74,442.86 L545.43,440.35 L545.22,440.13 L545.01,439.9 L544.81,439.67 L544.61,439.43 L544.41,439.2 L544.22,438.95 L544.03,438.7 L543.85,438.45 L542.43,439.36 L541.33,439.91 L541.14,439.62 L540.95,439.32 L540.77,439.02 L540.59,438.71 L540.42,438.4 L542.53,436.31 L542.38,436.02 L542.24,435.74 L542.1,435.45 L541.97,435.15 L541.84,434.85 L541.72,434.55 L541.6,434.25 L541.48,433.95 L539.97,434.48 L538.84,434.75 L538.73,434.39 L538.62,434.04 L538.52,433.68 L538.42,433.32 L538.33,432.96 L540.73,431.4 L540.66,431.07 L540.59,430.74 L540.53,430.41 L540.47,430.08 L540.41,429.74 L540.36,429.4 L540.32,429.06 L540.28,428.72 L538.77,428.85 L537.66,428.81 L537.63,428.42 L537.61,428.03 L537.6,427.64 L537.58,427.24 L537.58,426.85 L540.14,425.92 L540.14,425.57 L540.15,425.21 L540.17,424.86 L540.19,424.5 L540.21,424.14 L540.24,423.78 L540.27,423.43 L540.31,423.07 L538.88,422.79 L537.87,422.45 L537.93,422.05 L537.99,421.64 L538.06,421.24 L538.14,420.84 L538.22,420.43 L540.79,420.19 L540.87,419.83 L540.96,419.47 L541.05,419.11 L541.14,418.75 L541.24,418.39 L541.35,418.04 L541.46,417.68 L541.57,417.33 L540.31,416.66 L539.45,416.03 L539.59,415.64 L539.74,415.25 L539.9,414.85 L540.05,414.46 L540.22,414.08 L542.65,414.53 L542.8,414.18 L542.96,413.84 L543.12,413.5 L543.29,413.16 L543.46,412.83 L543.63,412.49 L543.81,412.16 L543.99,411.83 L542.97,410.8 L542.31,409.94 L542.53,409.57 L542.76,409.21 L542.98,408.86 L543.21,408.5 L543.45,408.15 L545.6,409.27 L545.81,408.96 L546.03,408.66 L546.26,408.36 L546.49,408.06 L546.72,407.76 L546.95,407.47 L547.19,407.18 L547.43,406.89 L546.71,405.57 L546.29,404.51 L546.57,404.2 L546.86,403.89 L547.14,403.59 L547.44,403.3 L547.73,403 L549.47,404.73 L549.74,404.47 L550.01,404.22 L550.28,403.98 L550.56,403.73 L550.84,403.5 L551.12,403.26 L551.4,403.03 L551.68,402.81 L551.31,401.27 L551.15,400.07 L551.48,399.83 L551.81,399.6 L552.14,399.37 L552.48,399.15 L552.81,398.93 L554.04,401.16 L554.35,400.97 L554.65,400.79 L554.96,400.61 L555.27,400.44 L555.57,400.28 L555.89,400.11 L556.2,399.96 L556.51,399.8 L556.5,398.14 L556.62,396.88 L556.97,396.72 L557.33,396.58 L557.68,396.43 L558.04,396.3 L558.4,396.17 L559.05,398.77 L559.37,398.66 L559.69,398.56 L560.01,398.47 L560.34,398.38 L560.66,398.29 L560.98,398.21 L561.3,398.13 L561.63,398.07 L561.98,396.36 L562.36,395.12 L562.72,395.06 L563.08,395 L563.45,394.95 L563.81,394.91 L564.16,394.88 L564.2,397.7 L564.52,397.68 L564.84,397.67 L565.16,397.66 L565.47,397.65 L565.79,397.65 L566.11,397.66 L566.42,397.67 L566.73,397.69 L567.43,396.05 L568.06,394.89 L568.41,394.92 L568.75,394.97 L569.09,395.02 L569.44,395.07 L569.78,395.13 L569.19,398.02 L569.49,398.09 L569.79,398.16 L570.09,398.23 L570.38,398.31 L570.67,398.4 L570.96,398.49 L571.25,398.59 L571.54,398.69 L572.54,397.22 L573.37,396.2 L573.69,396.34 L574,396.48 L574.3,396.62 L574.61,396.77 L574.91,396.92 L573.74,399.7 L574,399.85 L574.26,400 L574.52,400.16 L574.77,400.32 L575.02,400.49 L575.27,400.67 L575.52,400.84 L575.76,401.03 L577.01,399.8 L578,398.99 L578.26,399.21 L578.52,399.44 L578.77,399.67 L579.02,399.9 L579.26,400.14 L577.57,402.65 L577.78,402.87 L577.99,403.1 L578.19,403.33 L578.39,403.57 L578.59,403.8 L578.78,404.05 L578.97,404.3 L579.15,404.55 L580.57,403.64 L581.67,403.09 L581.86,403.38 L582.05,403.68 L582.23,403.98 L582.41,404.29 L582.58,404.6 L580.47,406.69 L580.62,406.98 L580.76,407.26 L580.9,407.55 L581.03,407.85 L581.16,408.15 L581.28,408.45 L581.4,408.75 L581.52,409.05 L583.03,408.52 L584.16,408.25 L584.27,408.61 L584.38,408.96 L584.48,409.32 L584.58,409.68 L584.67,410.04 L582.27,411.6 L582.34,411.93 L582.41,412.26 L582.47,412.59 L582.53,412.92 L582.59,413.26 L582.64,413.6 L582.68,413.94 L582.72,414.28 L584.23,414.15 L585.34,414.19 L585.37,414.58 L585.39,414.97 L585.4,415.36 L585.42,415.76 L585.42,416.15 L582.86,417.08 L582.86,417.43 L582.85,417.79 L582.83,418.14 L582.81,418.5 L582.79,418.86 L582.76,419.22 L582.73,419.57 L582.69,419.93 L584.12,420.21 L585.13,420.55 L585.07,420.95 L585.01,421.36 L584.94,421.76 L584.86,422.16 L584.78,422.57 L582.21,422.81 L582.13,423.17 L582.04,423.53 L581.95,423.89 L581.86,424.25 L581.76,424.61 L581.65,424.96 L581.54,425.32 L581.43,425.67 L582.69,426.34 L583.55,426.97 L583.41,427.36 L583.26,427.75 L583.1,428.15 L582.95,428.54 L582.78,428.92 L580.35,428.47 L580.2,428.82 L580.04,429.16 L579.88,429.5 L579.71,429.84 L579.54,430.17 L579.37,430.51 L579.19,430.84 L579.01,431.17 Z" fill="#fff" stroke="#000" stroke-width="1.5" stroke-linejoin="round" stroke-linecap="round" />
<ellipse cx="563" cy="421.6" rx="14.5" ry="22" transform="rotate(30 563 421.6)" fill="none" stroke="#000" stroke-width="1.5" />
<ellipse cx="563.5" cy="422" rx="11.5" ry="18" transform="rotate(30 563.5 422)" fill="none" stroke="#000" stroke-width="0.9" />
<clipPath id="c295"><path d="M540,395 L585,395 L575,412 L560,418 L552,440 L540,440 Z"/></clipPath>
<path d="M575.56,428.85 L574.55,430.48 L573.46,432.05 L572.28,433.53 L571.04,434.93 L569.73,436.22 L568.38,437.4 L566.98,438.47 L565.55,439.4 L564.1,440.2 L562.65,440.86 L561.19,441.37 L559.75,441.73 L558.34,441.93 L556.96,441.98 L555.62,441.88 L554.35,441.62 L553.14,441.21 L552,440.65 L550.95,439.95 L549.99,439.1 L549.12,438.13 L548.37,437.02 L547.72,435.8 L547.2,434.48 L546.79,433.05 L546.5,431.53 L546.34,429.95 L546.31,428.29 L546.4,426.59 L546.62,424.85 L546.97,423.08 L547.44,421.3 L548.02,419.53 L548.72,417.77 L549.53,416.04 L550.44,414.35 L551.45,412.72 L552.54,411.15 L553.72,409.67 L554.96,408.27 L556.27,406.98 L557.62,405.8 L559.02,404.73 L560.45,403.8 L561.9,403 L563.35,402.34 L564.81,401.83 L566.25,401.48 L567.66,401.27 L569.04,401.22 L570.38,401.32 L571.65,401.58 L572.86,401.99 L574,402.55 L575.05,403.25 L576.01,404.1 L576.88,405.07 L577.63,406.18 L578.28,407.4 L578.8,408.73 L579.21,410.15 L579.5,411.67 L579.66,413.25 L579.69,414.91 L579.6,416.61 L579.38,418.35 L579.03,420.12 L578.56,421.9 L577.98,423.67 L577.28,425.43 L576.47,427.16 L575.56,428.85 Z" fill="url(#h)" clip-path="url(#c295)"/>
<ellipse cx="560" cy="424" rx="5.5" ry="8" transform="rotate(25 560 424)" fill="#fff" stroke="#000" stroke-width="1.6" />
<path d="M562.79,416.53 L571.79,419.03 L566.21,433.97 L557.21,431.47 Z" fill="#fff" stroke="none"/>
<line x1="562.79" y1="416.53" x2="571.79" y2="419.03" stroke="#000" stroke-width="1.6" />
<line x1="557.21" y1="431.47" x2="566.21" y2="433.97" stroke="#000" stroke-width="1.6" />
<ellipse cx="569" cy="426.5" rx="5.5" ry="8" transform="rotate(25 569 426.5)" fill="#fff" stroke="#000" stroke-width="1.6" />
<ellipse cx="569" cy="426.5" rx="3.2" ry="4.8" transform="rotate(25 569 426.5)" fill="none" stroke="#000" stroke-width="1.5" />
<ellipse cx="569.3" cy="427" rx="1.5" ry="2.2" transform="rotate(30 569.3 427)" fill="#000" stroke="#000" stroke-width="0" />
<path d="M580,438.5 L597,449" fill="none" stroke="#000" stroke-width="4.0" stroke-linejoin="round" stroke-linecap="round" />
<path d="M582,440 L595,448" fill="none" stroke="#fff" stroke-width="0.9" stroke-linejoin="round" stroke-linecap="round"  stroke-dasharray="1,1.6"/>
<line x1="244" y1="16.5" x2="553" y2="26.5" stroke="#000" stroke-width="1.25" />
<line x1="252.5" y1="22" x2="553" y2="41" stroke="#000" stroke-width="1.25" />
<line x1="259" y1="27" x2="553" y2="55" stroke="#000" stroke-width="1.25" />
<line x1="269" y1="31.5" x2="553" y2="69" stroke="#000" stroke-width="1.25" />
<line x1="311" y1="65" x2="548" y2="85" stroke="#000" stroke-width="1.25" />
<line x1="355" y1="94" x2="552" y2="99.5" stroke="#000" stroke-width="1.25" />
<line x1="390" y1="112" x2="552" y2="115" stroke="#000" stroke-width="1.25" />
<line x1="526" y1="138" x2="550" y2="136" stroke="#000" stroke-width="1.25" />
<line x1="540" y1="154" x2="550" y2="154" stroke="#000" stroke-width="1.25" />
<line x1="531" y1="194" x2="550" y2="173" stroke="#000" stroke-width="1.25" />
<line x1="571" y1="219" x2="644" y2="231" stroke="#000" stroke-width="1.25" />
<line x1="592" y1="246.5" x2="644" y2="246.5" stroke="#000" stroke-width="1.25" />
<line x1="615" y1="276" x2="644" y2="262" stroke="#000" stroke-width="1.25" />
<line x1="629.5" y1="297" x2="644" y2="281" stroke="#000" stroke-width="1.25" />
<line x1="480" y1="329" x2="544" y2="339" stroke="#000" stroke-width="1.25" />
<line x1="530" y1="362" x2="544" y2="362" stroke="#000" stroke-width="1.25" />
<line x1="500" y1="428" x2="540" y2="430" stroke="#000" stroke-width="1.25" />
<line x1="500" y1="448.5" x2="598" y2="450" stroke="#000" stroke-width="1.25" />
<line x1="543" y1="228" x2="571" y2="219" stroke="#000" stroke-width="1.1" />
<path d="M140,178 L336,352.5 L327.5,362" fill="none" stroke="#000" stroke-width="1.1" stroke-linejoin="round" stroke-linecap="round" />
<path d="M257.5,256 L354.4,345 L328.6,378.3" fill="none" stroke="#000" stroke-width="1.1" stroke-linejoin="round" stroke-linecap="round" />
<path d="M382,338.6 L328.6,378.3" fill="none" stroke="#000" stroke-width="1.1" stroke-linejoin="round" stroke-linecap="round" />
<path d="M420,352 L327.5,401" fill="none" stroke="#000" stroke-width="1.1" stroke-linejoin="round" stroke-linecap="round" />
<path d="M327.5,421 L500,428" fill="none" stroke="#000" stroke-width="1.1" stroke-linejoin="round" stroke-linecap="round" />
<path d="M326,440 L500,448.5" fill="none" stroke="#000" stroke-width="1.1" stroke-linejoin="round" stroke-linecap="round" />
<path d="M1.2,2.6 C2.6,2 3.6,1.2 4.6,0 L4.6,10" fill="none" stroke="#000" stroke-width="1.45" stroke-linecap="round" stroke-linejoin="round" vector-effect="non-scaling-stroke" transform="translate(553.14 29.9) skewX(-10) scale(0.72 0.9) translate(0 -10)"/>
<path d="M0.4,2.6 C0.6,0.2 5.8,-0.6 5.8,2.6 C5.8,4.8 0.2,8 0,10 L6,10" fill="none" stroke="#000" stroke-width="1.45" stroke-linecap="round" stroke-linejoin="round" vector-effect="non-scaling-stroke" transform="translate(554 45.3) skewX(-10) scale(0.72 0.9) translate(0 -10)"/>
<path d="M0.3,0.2 L5.6,0.2 L2.6,4.1 C5.2,3.9 6.1,5.6 6,7.2 C5.8,10.4 1.2,10.6 0,8.4" fill="none" stroke="#000" stroke-width="1.45" stroke-linecap="round" stroke-linejoin="round" vector-effect="non-scaling-stroke" transform="translate(553 60.7) skewX(-10) scale(0.72 0.9) translate(0 -10)"/>
<path d="M4.6,10 L4.6,0 L0,7 L6.2,7" fill="none" stroke="#000" stroke-width="1.45" stroke-linecap="round" stroke-linejoin="round" vector-effect="non-scaling-stroke" transform="translate(554 72.5) skewX(-10) scale(0.72 0.9) translate(0 -10)"/>
<path d="M5.6,0.2 L0.9,0.2 L0.4,4.6 C2,3.4 6,3.4 6,6.9 C6,10.6 1,10.6 0,8.4" fill="none" stroke="#000" stroke-width="1.45" stroke-linecap="round" stroke-linejoin="round" vector-effect="non-scaling-stroke" transform="translate(554 92.5) skewX(-10) scale(0.72 0.9) translate(0 -10)"/>
<path d="M5.6,0.2 L2.6,0.2 C0.6,0.6 0,3.5 0,6.4 C0,9.2 1.4,10 3,10 C4.8,10 6,8.8 6,6.8 C6,4.9 4.6,4 3,4 C1.4,4 0.4,4.9 0.1,6" fill="none" stroke="#000" stroke-width="1.45" stroke-linecap="round" stroke-linejoin="round" vector-effect="non-scaling-stroke" transform="translate(554 104.2) skewX(-10) scale(0.72 0.9) translate(0 -10)"/>
<path d="M0,0.2 L6,0.2 C4.2,3 2.8,6 2,10" fill="none" stroke="#000" stroke-width="1.45" stroke-linecap="round" stroke-linejoin="round" vector-effect="non-scaling-stroke" transform="translate(552.56 119.5) skewX(-10) scale(0.72 0.9) translate(0 -10)"/>
<path d="M3,4.7 C0.6,4.7 0.6,0 3,0 C5.4,0 5.4,4.7 3,4.7 C0,4.7 0,10 3,10 C6,10 6,4.7 3,4.7 Z" fill="none" stroke="#000" stroke-width="1.45" stroke-linecap="round" stroke-linejoin="round" vector-effect="non-scaling-stroke" transform="translate(552.57 138.5) skewX(-10) scale(0.72 0.9) translate(0 -10)"/>
<path d="M0.4,9 C1.2,10.4 6,10.8 6,4.6 C6,1.2 4.6,0 3,0 C1.2,0 0,1.2 0,3.2 C0,5.2 1.4,6.1 3,6.1 C4.6,6.1 5.6,5.2 5.9,4.2" fill="none" stroke="#000" stroke-width="1.45" stroke-linecap="round" stroke-linejoin="round" vector-effect="non-scaling-stroke" transform="translate(551.41 158.5) skewX(-10) scale(0.72 0.9) translate(0 -10)"/>
<path d="M1.2,2.6 C2.6,2 3.6,1.2 4.6,0 L4.6,10" fill="none" stroke="#000" stroke-width="1.45" stroke-linecap="round" stroke-linejoin="round" vector-effect="non-scaling-stroke" transform="translate(550.84 178) skewX(-10) scale(0.72 0.9) translate(0 -10)"/>
<path d="M3,0 C6.2,0 6.2,10 3,10 C-0.2,10 -0.2,0 3,0 Z" fill="none" stroke="#000" stroke-width="1.45" stroke-linecap="round" stroke-linejoin="round" vector-effect="non-scaling-stroke" transform="translate(556.31 178) skewX(-10) scale(0.72 0.9) translate(0 -10)"/>
<path d="M1.2,2.6 C2.6,2 3.6,1.2 4.6,0 L4.6,10" fill="none" stroke="#000" stroke-width="1.45" stroke-linecap="round" stroke-linejoin="round" vector-effect="non-scaling-stroke" transform="translate(645.14 234.5) skewX(-10) scale(0.72 0.9) translate(0 -10)"/>
<path d="M1.2,2.6 C2.6,2 3.6,1.2 4.6,0 L4.6,10" fill="none" stroke="#000" stroke-width="1.45" stroke-linecap="round" stroke-linejoin="round" vector-effect="non-scaling-stroke" transform="translate(650.61 234.5) skewX(-10) scale(0.72 0.9) translate(0 -10)"/>
<path d="M1.2,2.6 C2.6,2 3.6,1.2 4.6,0 L4.6,10" fill="none" stroke="#000" stroke-width="1.45" stroke-linecap="round" stroke-linejoin="round" vector-effect="non-scaling-stroke" transform="translate(645.14 249.9) skewX(-10) scale(0.72 0.9) translate(0 -10)"/>
<path d="M0.4,2.6 C0.6,0.2 5.8,-0.6 5.8,2.6 C5.8,4.8 0.2,8 0,10 L6,10" fill="none" stroke="#000" stroke-width="1.45" stroke-linecap="round" stroke-linejoin="round" vector-effect="non-scaling-stroke" transform="translate(650.61 249.9) skewX(-10) scale(0.72 0.9) translate(0 -10)"/>
<path d="M1.2,2.6 C2.6,2 3.6,1.2 4.6,0 L4.6,10" fill="none" stroke="#000" stroke-width="1.45" stroke-linecap="round" stroke-linejoin="round" vector-effect="non-scaling-stroke" transform="translate(646.14 263.5) skewX(-10) scale(0.72 0.9) translate(0 -10)"/>
<path d="M0.3,0.2 L5.6,0.2 L2.6,4.1 C5.2,3.9 6.1,5.6 6,7.2 C5.8,10.4 1.2,10.6 0,8.4" fill="none" stroke="#000" stroke-width="1.45" stroke-linecap="round" stroke-linejoin="round" vector-effect="non-scaling-stroke" transform="translate(651.61 263.5) skewX(-10) scale(0.72 0.9) translate(0 -10)"/>
<path d="M1.2,2.6 C2.6,2 3.6,1.2 4.6,0 L4.6,10" fill="none" stroke="#000" stroke-width="1.45" stroke-linecap="round" stroke-linejoin="round" vector-effect="non-scaling-stroke" transform="translate(645.64 283.2) skewX(-10) scale(0.72 0.9) translate(0 -10)"/>
<path d="M4.6,10 L4.6,0 L0,7 L6.2,7" fill="none" stroke="#000" stroke-width="1.45" stroke-linecap="round" stroke-linejoin="round" vector-effect="non-scaling-stroke" transform="translate(651.11 283.2) skewX(-10) scale(0.72 0.9) translate(0 -10)"/>
<path d="M1.2,2.6 C2.6,2 3.6,1.2 4.6,0 L4.6,10" fill="none" stroke="#000" stroke-width="1.45" stroke-linecap="round" stroke-linejoin="round" vector-effect="non-scaling-stroke" transform="translate(644.94 299.3) skewX(-10) scale(0.72 0.9) translate(0 -10)"/>
<path d="M5.6,0.2 L0.9,0.2 L0.4,4.6 C2,3.4 6,3.4 6,6.9 C6,10.6 1,10.6 0,8.4" fill="none" stroke="#000" stroke-width="1.45" stroke-linecap="round" stroke-linejoin="round" vector-effect="non-scaling-stroke" transform="translate(650.41 299.3) skewX(-10) scale(0.72 0.9) translate(0 -10)"/>
<path d="M1.2,2.6 C2.6,2 3.6,1.2 4.6,0 L4.6,10" fill="none" stroke="#000" stroke-width="1.45" stroke-linecap="round" stroke-linejoin="round" vector-effect="non-scaling-stroke" transform="translate(545.54 344) skewX(-10) scale(0.72 0.9) translate(0 -10)"/>
<path d="M5.6,0.2 L2.6,0.2 C0.6,0.6 0,3.5 0,6.4 C0,9.2 1.4,10 3,10 C4.8,10 6,8.8 6,6.8 C6,4.9 4.6,4 3,4 C1.4,4 0.4,4.9 0.1,6" fill="none" stroke="#000" stroke-width="1.45" stroke-linecap="round" stroke-linejoin="round" vector-effect="non-scaling-stroke" transform="translate(551.01 344) skewX(-10) scale(0.72 0.9) translate(0 -10)"/>
<path d="M1.2,2.6 C2.6,2 3.6,1.2 4.6,0 L4.6,10" fill="none" stroke="#000" stroke-width="1.45" stroke-linecap="round" stroke-linejoin="round" vector-effect="non-scaling-stroke" transform="translate(545.14 367.1) skewX(-10) scale(0.72 0.9) translate(0 -10)"/>
<path d="M0,0.2 L6,0.2 C4.2,3 2.8,6 2,10" fill="none" stroke="#000" stroke-width="1.45" stroke-linecap="round" stroke-linejoin="round" vector-effect="non-scaling-stroke" transform="translate(550.61 367.1) skewX(-10) scale(0.72 0.9) translate(0 -10)"/>
<path d="M0.4,2.6 C0.6,0.2 5.8,-0.6 5.8,2.6 C5.8,4.8 0.2,8 0,10 L6,10" fill="none" stroke="#000" stroke-width="1.45" stroke-linecap="round" stroke-linejoin="round" vector-effect="non-scaling-stroke" transform="translate(311.5 367.1) skewX(-10) scale(0.72 0.9) translate(0 -10)"/>
<path d="M0.4,2.6 C0.6,0.2 5.8,-0.6 5.8,2.6 C5.8,4.8 0.2,8 0,10 L6,10" fill="none" stroke="#000" stroke-width="1.45" stroke-linecap="round" stroke-linejoin="round" vector-effect="non-scaling-stroke" transform="translate(316.97 367.1) skewX(-10) scale(0.72 0.9) translate(0 -10)"/>
<path d="M0.4,2.6 C0.6,0.2 5.8,-0.6 5.8,2.6 C5.8,4.8 0.2,8 0,10 L6,10" fill="none" stroke="#000" stroke-width="1.45" stroke-linecap="round" stroke-linejoin="round" vector-effect="non-scaling-stroke" transform="translate(311.5 383) skewX(-10) scale(0.72 0.9) translate(0 -10)"/>
<path d="M1.2,2.6 C2.6,2 3.6,1.2 4.6,0 L4.6,10" fill="none" stroke="#000" stroke-width="1.45" stroke-linecap="round" stroke-linejoin="round" vector-effect="non-scaling-stroke" transform="translate(316.97 383) skewX(-10) scale(0.72 0.9) translate(0 -10)"/>
<path d="M0.4,2.6 C0.6,0.2 5.8,-0.6 5.8,2.6 C5.8,4.8 0.2,8 0,10 L6,10" fill="none" stroke="#000" stroke-width="1.45" stroke-linecap="round" stroke-linejoin="round" vector-effect="non-scaling-stroke" transform="translate(311.5 404.5) skewX(-10) scale(0.72 0.9) translate(0 -10)"/>
<path d="M3,0 C6.2,0 6.2,10 3,10 C-0.2,10 -0.2,0 3,0 Z" fill="none" stroke="#000" stroke-width="1.45" stroke-linecap="round" stroke-linejoin="round" vector-effect="non-scaling-stroke" transform="translate(316.97 404.5) skewX(-10) scale(0.72 0.9) translate(0 -10)"/>
<path d="M1.2,2.6 C2.6,2 3.6,1.2 4.6,0 L4.6,10" fill="none" stroke="#000" stroke-width="1.45" stroke-linecap="round" stroke-linejoin="round" vector-effect="non-scaling-stroke" transform="translate(312.14 422.5) skewX(-10) scale(0.72 0.9) translate(0 -10)"/>
<path d="M0.4,9 C1.2,10.4 6,10.8 6,4.6 C6,1.2 4.6,0 3,0 C1.2,0 0,1.2 0,3.2 C0,5.2 1.4,6.1 3,6.1 C4.6,6.1 5.6,5.2 5.9,4.2" fill="none" stroke="#000" stroke-width="1.45" stroke-linecap="round" stroke-linejoin="round" vector-effect="non-scaling-stroke" transform="translate(317.61 422.5) skewX(-10) scale(0.72 0.9) translate(0 -10)"/>
<path d="M1.2,2.6 C2.6,2 3.6,1.2 4.6,0 L4.6,10" fill="none" stroke="#000" stroke-width="1.45" stroke-linecap="round" stroke-linejoin="round" vector-effect="non-scaling-stroke" transform="translate(312.14 445.1) skewX(-10) scale(0.72 0.9) translate(0 -10)"/>
<path d="M3,4.7 C0.6,4.7 0.6,0 3,0 C5.4,0 5.4,4.7 3,4.7 C0,4.7 0,10 3,10 C6,10 6,4.7 3,4.7 Z" fill="none" stroke="#000" stroke-width="1.45" stroke-linecap="round" stroke-linejoin="round" vector-effect="non-scaling-stroke" transform="translate(317.61 445.1) skewX(-10) scale(0.72 0.9) translate(0 -10)"/>
</svg></body></html>
